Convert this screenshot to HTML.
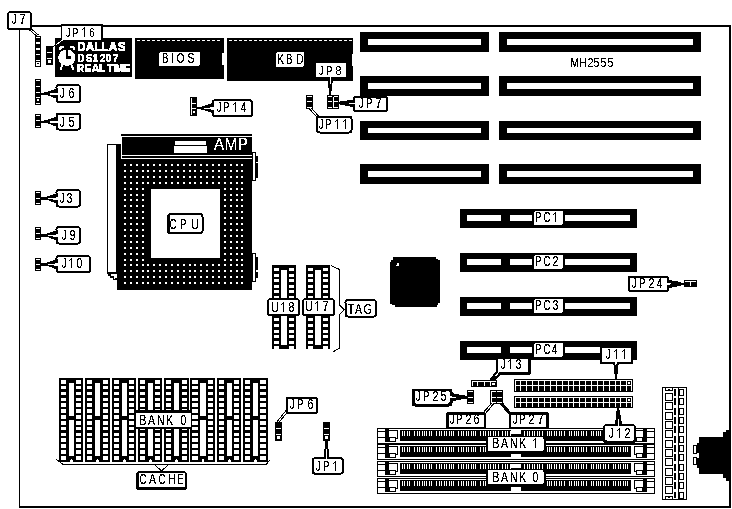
<!DOCTYPE html>
<html><head><meta charset="utf-8"><style>
html,body{margin:0;padding:0;background:#fff;}
svg{display:block;}
text{font-family:"Liberation Sans",sans-serif;}
</style></head><body>
<svg width="732" height="509" viewBox="0 0 732 509" shape-rendering="crispEdges">
<defs><filter id="crisp" x="-10%" y="-30%" width="120%" height="160%"><feComponentTransfer><feFuncA type="discrete" tableValues="0 0 1 1 1"/></feComponentTransfer></filter></defs>
<rect x="0" y="0" width="732" height="509" fill="#fff"/>
<rect x="19" y="25" width="712" height="2" fill="#000"/>
<rect x="19" y="506" width="712" height="2" fill="#000"/>
<rect x="19" y="25" width="1" height="483" fill="#000"/>
<rect x="729" y="25" width="2" height="483" fill="#000"/>
<rect x="360" y="32" width="129" height="20" fill="#000"/>
<rect x="368" y="39" width="113" height="6" fill="#fff"/>
<rect x="499" y="32" width="202" height="20" fill="#000"/>
<rect x="507" y="39" width="186" height="6" fill="#fff"/>
<rect x="360" y="76" width="129" height="20" fill="#000"/>
<rect x="368" y="83" width="113" height="6" fill="#fff"/>
<rect x="499" y="76" width="202" height="20" fill="#000"/>
<rect x="507" y="83" width="186" height="6" fill="#fff"/>
<rect x="360" y="121" width="129" height="19" fill="#000"/>
<rect x="368" y="128" width="113" height="5" fill="#fff"/>
<rect x="499" y="121" width="202" height="19" fill="#000"/>
<rect x="507" y="128" width="186" height="5" fill="#fff"/>
<rect x="360" y="164" width="129" height="20" fill="#000"/>
<rect x="368" y="171" width="113" height="6" fill="#fff"/>
<rect x="499" y="164" width="202" height="20" fill="#000"/>
<rect x="507" y="171" width="186" height="6" fill="#fff"/>
<g font-family="Liberation Sans" font-size="12.5" font-weight="normal" fill="#000" filter="url(#crisp)"><text transform="translate(570.142 67) scale(0.8371 1)" x="0" y="0">M</text><text transform="translate(579.119 67) scale(0.8593 1)" x="0" y="0">H</text><text transform="translate(587.448 67) scale(0.8780 1)" x="0" y="0">2</text><text transform="translate(593.578 67) scale(0.8437 1)" x="0" y="0">5</text><text transform="translate(600.578 67) scale(0.8437 1)" x="0" y="0">5</text><text transform="translate(607.578 67) scale(0.8437 1)" x="0" y="0">5</text></g>
<rect x="460" y="209" width="177" height="19" fill="#000"/>
<rect x="467" y="215" width="34" height="6" fill="#fff"/>
<rect x="510" y="215" width="22" height="6" fill="#fff"/>
<rect x="565" y="215" width="65" height="6" fill="#fff"/>
<rect x="534" y="211" width="29" height="14" rx="2" fill="#fff"/>
<rect x="555" y="212" width="1" height="10" fill="#000"/>
<rect x="554" y="213" width="1" height="1" fill="#000"/>
<rect x="553" y="214" width="1" height="1" fill="#000"/>
<g font-family="Liberation Sans" font-size="14" font-weight="normal" fill="#000" filter="url(#crisp)"><text transform="translate(535.229 222) scale(0.6710 1)" x="0" y="0">P</text><text transform="translate(543.519 222) scale(0.6767 1)" x="0" y="0">C</text></g>
<rect x="460" y="253" width="177" height="19" fill="#000"/>
<rect x="467" y="259" width="34" height="6" fill="#fff"/>
<rect x="510" y="259" width="22" height="6" fill="#fff"/>
<rect x="565" y="259" width="65" height="6" fill="#fff"/>
<rect x="534" y="255" width="29" height="14" rx="2" fill="#fff"/>
<g font-family="Liberation Sans" font-size="14" font-weight="normal" fill="#000" filter="url(#crisp)"><text transform="translate(535.229 266) scale(0.6710 1)" x="0" y="0">P</text><text transform="translate(543.519 266) scale(0.6767 1)" x="0" y="0">C</text><text transform="translate(552.448 266) scale(0.7840 1)" x="0" y="0">2</text></g>
<rect x="460" y="297" width="177" height="19" fill="#000"/>
<rect x="467" y="303" width="34" height="6" fill="#fff"/>
<rect x="510" y="303" width="22" height="6" fill="#fff"/>
<rect x="565" y="303" width="65" height="6" fill="#fff"/>
<rect x="534" y="299" width="29" height="14" rx="2" fill="#fff"/>
<g font-family="Liberation Sans" font-size="14" font-weight="normal" fill="#000" filter="url(#crisp)"><text transform="translate(535.229 310) scale(0.6710 1)" x="0" y="0">P</text><text transform="translate(543.519 310) scale(0.6767 1)" x="0" y="0">C</text><text transform="translate(552.598 310) scale(0.7533 1)" x="0" y="0">3</text></g>
<rect x="460" y="341" width="177" height="19" fill="#000"/>
<rect x="467" y="347" width="34" height="6" fill="#fff"/>
<rect x="510" y="347" width="22" height="6" fill="#fff"/>
<rect x="565" y="347" width="65" height="6" fill="#fff"/>
<rect x="534" y="343" width="29" height="14" rx="2" fill="#fff"/>
<g font-family="Liberation Sans" font-size="14" font-weight="normal" fill="#000" filter="url(#crisp)"><text transform="translate(535.229 354) scale(0.6710 1)" x="0" y="0">P</text><text transform="translate(543.519 354) scale(0.6767 1)" x="0" y="0">C</text><text transform="translate(551.772 354) scale(0.7087 1)" x="0" y="0">4</text></g>
<rect x="135" y="38" width="89" height="41" fill="#000"/>
<rect x="227" y="38" width="126" height="43" fill="#000"/>
<rect x="352" y="54" width="1" height="12" fill="#fff"/>
<rect x="222" y="53" width="2" height="12" fill="#fff"/>
<rect x="137" y="40" width="3" height="1" fill="#fff"/>
<rect x="142" y="40" width="3" height="1" fill="#fff"/>
<rect x="147" y="40" width="3" height="1" fill="#fff"/>
<rect x="152" y="40" width="3" height="1" fill="#fff"/>
<rect x="157" y="40" width="3" height="1" fill="#fff"/>
<rect x="162" y="40" width="3" height="1" fill="#fff"/>
<rect x="167" y="40" width="3" height="1" fill="#fff"/>
<rect x="172" y="40" width="3" height="1" fill="#fff"/>
<rect x="177" y="40" width="3" height="1" fill="#fff"/>
<rect x="182" y="40" width="3" height="1" fill="#fff"/>
<rect x="187" y="40" width="3" height="1" fill="#fff"/>
<rect x="192" y="40" width="3" height="1" fill="#fff"/>
<rect x="197" y="40" width="3" height="1" fill="#fff"/>
<rect x="202" y="40" width="3" height="1" fill="#fff"/>
<rect x="207" y="40" width="3" height="1" fill="#fff"/>
<rect x="212" y="40" width="3" height="1" fill="#fff"/>
<rect x="217" y="40" width="3" height="1" fill="#fff"/>
<rect x="229" y="40" width="3" height="1" fill="#fff"/>
<rect x="234" y="40" width="3" height="1" fill="#fff"/>
<rect x="239" y="40" width="3" height="1" fill="#fff"/>
<rect x="244" y="40" width="3" height="1" fill="#fff"/>
<rect x="249" y="40" width="3" height="1" fill="#fff"/>
<rect x="254" y="40" width="3" height="1" fill="#fff"/>
<rect x="259" y="40" width="3" height="1" fill="#fff"/>
<rect x="264" y="40" width="3" height="1" fill="#fff"/>
<rect x="269" y="40" width="3" height="1" fill="#fff"/>
<rect x="274" y="40" width="3" height="1" fill="#fff"/>
<rect x="279" y="40" width="3" height="1" fill="#fff"/>
<rect x="284" y="40" width="3" height="1" fill="#fff"/>
<rect x="289" y="40" width="3" height="1" fill="#fff"/>
<rect x="294" y="40" width="3" height="1" fill="#fff"/>
<rect x="299" y="40" width="3" height="1" fill="#fff"/>
<rect x="304" y="40" width="3" height="1" fill="#fff"/>
<rect x="309" y="40" width="3" height="1" fill="#fff"/>
<rect x="314" y="40" width="3" height="1" fill="#fff"/>
<rect x="319" y="40" width="3" height="1" fill="#fff"/>
<rect x="324" y="40" width="3" height="1" fill="#fff"/>
<rect x="329" y="40" width="3" height="1" fill="#fff"/>
<rect x="334" y="40" width="3" height="1" fill="#fff"/>
<rect x="339" y="40" width="3" height="1" fill="#fff"/>
<rect x="344" y="40" width="3" height="1" fill="#fff"/>
<rect x="349" y="40" width="3" height="1" fill="#fff"/>
<rect x="159" y="52" width="41" height="14" rx="2" fill="#fff"/>
<g font-family="Liberation Sans" font-size="14" font-weight="normal" fill="#000" filter="url(#crisp)"><text transform="translate(162.229 63) scale(0.6710 1)" x="0" y="0">B</text><text transform="translate(171.010 63) scale(0.7659 1)" x="0" y="0">I</text><text transform="translate(176.514 63) scale(0.7325 1)" x="0" y="0">O</text><text transform="translate(187.527 63) scale(0.7445 1)" x="0" y="0">S</text></g>
<rect x="276" y="52" width="28" height="15" rx="2" fill="#fff"/>
<g font-family="Liberation Sans" font-size="14" font-weight="normal" fill="#000" filter="url(#crisp)"><text transform="translate(277.142 64) scale(0.7470 1)" x="0" y="0">K</text><text transform="translate(286.229 64) scale(0.6710 1)" x="0" y="0">B</text><text transform="translate(296.169 64) scale(0.7236 1)" x="0" y="0">D</text></g>
<rect x="55" y="38" width="77" height="39" fill="#000"/>
<g font-family="Liberation Sans" font-size="12" font-weight="bold" fill="#fff" stroke="#fff" stroke-width="0.5" filter="url(#crisp)"><text transform="translate(77.236 51) scale(0.9512 1)" x="0" y="0">D</text><text transform="translate(85.703 51) scale(0.9937 1)" x="0" y="0">A</text><text transform="translate(94.218 51) scale(0.9743 1)" x="0" y="0">L</text><text transform="translate(101.218 51) scale(0.9743 1)" x="0" y="0">L</text><text transform="translate(108.703 51) scale(0.9937 1)" x="0" y="0">A</text><text transform="translate(117.663 51) scale(0.9736 1)" x="0" y="0">S</text></g>
<g font-family="Liberation Sans" font-size="11.5" font-weight="bold" fill="#fff" stroke="#fff" stroke-width="0.25" filter="url(#crisp)"><text transform="translate(77.346 62) scale(0.8507 1)" x="0" y="0">D</text><text transform="translate(85.711 62) scale(0.8708 1)" x="0" y="0">S</text><text transform="translate(92.323 62) scale(0.9343 1)" x="0" y="0">1</text><text transform="translate(99.640 62) scale(0.9031 1)" x="0" y="0">2</text><text transform="translate(105.584 62) scale(0.9142 1)" x="0" y="0">0</text><text transform="translate(112.542 62) scale(0.9266 1)" x="0" y="0">7</text></g>
<g font-family="Liberation Sans" font-size="10.5" font-weight="bold" fill="#fff" stroke="#fff" stroke-width="0.4" filter="url(#crisp)"><text transform="translate(77.368 72) scale(0.9002 1)" x="0" y="0">R</text><text transform="translate(84.285 72) scale(1.0185 1)" x="0" y="0">E</text><text transform="translate(91.740 72) scale(0.9937 1)" x="0" y="0">A</text><text transform="translate(99.348 72) scale(0.9279 1)" x="0" y="0">L</text><text transform="translate(106.886 72) scale(0.9704 1)" x="0" y="0">T</text><text transform="translate(113.536 72) scale(0.6612 1)" x="0" y="0">I</text><text transform="translate(115.330 72) scale(0.9534 1)" x="0" y="0">M</text><text transform="translate(123.285 72) scale(1.0185 1)" x="0" y="0">E</text></g>
<ellipse cx="66.8" cy="57.7" rx="8.6" ry="8.2" fill="#fff"/>
<path d="M59 50 L59 47 L61 46 L64 46 L64 47.5 L61.5 48.5 L60.5 50 Z" fill="#fff"/>
<path d="M75 50 L75 47 L73 46 L70 46 L70 47.5 L72.5 48.5 L73.5 50 Z" fill="#fff"/>
<rect x="66" y="50" width="2" height="8" fill="#000"/>
<rect x="66" y="56" width="5" height="3" fill="#000"/>
<path d="M62.5 64 L60.5 70 M71 64 L73.5 70" stroke="#fff" stroke-width="2"/>
<rect x="107" y="144" width="10" height="130" fill="#000"/>
<rect x="108" y="145" width="8" height="127" fill="#fff"/>
<rect x="108" y="274" width="3" height="2" fill="#000"/>
<rect x="110" y="276" width="4" height="2" fill="#000"/>
<rect x="113" y="278" width="4" height="2" fill="#000"/>
<rect x="114" y="278" width="1" height="1" fill="#fff"/>
<rect x="117" y="144" width="135" height="146" fill="#000"/>
<rect x="121" y="134" width="131" height="25" fill="#000"/>
<rect x="122" y="136" width="130" height="1" fill="#fff"/>
<rect x="121" y="136" width="1" height="23" fill="#fff"/>
<rect x="121" y="155" width="131" height="1" fill="#fff"/>
<rect x="121" y="158" width="131" height="1" fill="#fff"/>
<rect x="175" y="141" width="31" height="4" fill="#fff"/>
<rect x="174" y="146" width="33" height="7" fill="#fff"/>
<g font-family="Liberation Sans" font-size="17" font-weight="normal" fill="#fff" filter="url(#crisp)"><text transform="translate(213.971 150) scale(0.8871 1)" x="0" y="0">A</text><text transform="translate(224.774 150) scale(0.8793 1)" x="0" y="0">M</text><text transform="translate(237.767 150) scale(0.8842 1)" x="0" y="0">P</text></g>
<rect x="124" y="164" width="2" height="2" fill="#fff"/>
<rect x="124" y="170" width="2" height="2" fill="#fff"/>
<rect x="124" y="176" width="2" height="2" fill="#fff"/>
<rect x="124" y="182" width="2" height="2" fill="#fff"/>
<rect x="124" y="188" width="2" height="2" fill="#fff"/>
<rect x="124" y="194" width="2" height="2" fill="#fff"/>
<rect x="124" y="199" width="2" height="2" fill="#fff"/>
<rect x="124" y="205" width="2" height="2" fill="#fff"/>
<rect x="124" y="211" width="2" height="2" fill="#fff"/>
<rect x="124" y="217" width="2" height="2" fill="#fff"/>
<rect x="124" y="223" width="2" height="2" fill="#fff"/>
<rect x="124" y="229" width="2" height="2" fill="#fff"/>
<rect x="124" y="235" width="2" height="2" fill="#fff"/>
<rect x="124" y="241" width="2" height="2" fill="#fff"/>
<rect x="124" y="247" width="2" height="2" fill="#fff"/>
<rect x="124" y="253" width="2" height="2" fill="#fff"/>
<rect x="124" y="259" width="2" height="2" fill="#fff"/>
<rect x="124" y="264" width="2" height="2" fill="#fff"/>
<rect x="124" y="270" width="2" height="2" fill="#fff"/>
<rect x="124" y="276" width="2" height="2" fill="#fff"/>
<rect x="124" y="282" width="2" height="2" fill="#fff"/>
<rect x="130" y="164" width="2" height="2" fill="#fff"/>
<rect x="130" y="170" width="2" height="2" fill="#fff"/>
<rect x="130" y="176" width="2" height="2" fill="#fff"/>
<rect x="130" y="182" width="2" height="2" fill="#fff"/>
<rect x="130" y="188" width="2" height="2" fill="#fff"/>
<rect x="130" y="194" width="2" height="2" fill="#fff"/>
<rect x="130" y="199" width="2" height="2" fill="#fff"/>
<rect x="130" y="205" width="2" height="2" fill="#fff"/>
<rect x="130" y="211" width="2" height="2" fill="#fff"/>
<rect x="130" y="217" width="2" height="2" fill="#fff"/>
<rect x="130" y="223" width="2" height="2" fill="#fff"/>
<rect x="130" y="229" width="2" height="2" fill="#fff"/>
<rect x="130" y="235" width="2" height="2" fill="#fff"/>
<rect x="130" y="241" width="2" height="2" fill="#fff"/>
<rect x="130" y="247" width="2" height="2" fill="#fff"/>
<rect x="130" y="253" width="2" height="2" fill="#fff"/>
<rect x="130" y="259" width="2" height="2" fill="#fff"/>
<rect x="130" y="264" width="2" height="2" fill="#fff"/>
<rect x="130" y="270" width="2" height="2" fill="#fff"/>
<rect x="130" y="276" width="2" height="2" fill="#fff"/>
<rect x="130" y="282" width="2" height="2" fill="#fff"/>
<rect x="136" y="164" width="2" height="2" fill="#fff"/>
<rect x="136" y="170" width="2" height="2" fill="#fff"/>
<rect x="136" y="176" width="2" height="2" fill="#fff"/>
<rect x="136" y="182" width="2" height="2" fill="#fff"/>
<rect x="136" y="188" width="2" height="2" fill="#fff"/>
<rect x="136" y="194" width="2" height="2" fill="#fff"/>
<rect x="136" y="199" width="2" height="2" fill="#fff"/>
<rect x="136" y="205" width="2" height="2" fill="#fff"/>
<rect x="136" y="211" width="2" height="2" fill="#fff"/>
<rect x="136" y="217" width="2" height="2" fill="#fff"/>
<rect x="136" y="223" width="2" height="2" fill="#fff"/>
<rect x="136" y="229" width="2" height="2" fill="#fff"/>
<rect x="136" y="235" width="2" height="2" fill="#fff"/>
<rect x="136" y="241" width="2" height="2" fill="#fff"/>
<rect x="136" y="247" width="2" height="2" fill="#fff"/>
<rect x="136" y="253" width="2" height="2" fill="#fff"/>
<rect x="136" y="259" width="2" height="2" fill="#fff"/>
<rect x="136" y="264" width="2" height="2" fill="#fff"/>
<rect x="136" y="270" width="2" height="2" fill="#fff"/>
<rect x="136" y="276" width="2" height="2" fill="#fff"/>
<rect x="136" y="282" width="2" height="2" fill="#fff"/>
<rect x="142" y="164" width="2" height="2" fill="#fff"/>
<rect x="142" y="170" width="2" height="2" fill="#fff"/>
<rect x="142" y="176" width="2" height="2" fill="#fff"/>
<rect x="142" y="182" width="2" height="2" fill="#fff"/>
<rect x="142" y="188" width="2" height="2" fill="#fff"/>
<rect x="142" y="194" width="2" height="2" fill="#fff"/>
<rect x="142" y="199" width="2" height="2" fill="#fff"/>
<rect x="142" y="205" width="2" height="2" fill="#fff"/>
<rect x="142" y="211" width="2" height="2" fill="#fff"/>
<rect x="142" y="217" width="2" height="2" fill="#fff"/>
<rect x="142" y="223" width="2" height="2" fill="#fff"/>
<rect x="142" y="229" width="2" height="2" fill="#fff"/>
<rect x="142" y="235" width="2" height="2" fill="#fff"/>
<rect x="142" y="241" width="2" height="2" fill="#fff"/>
<rect x="142" y="247" width="2" height="2" fill="#fff"/>
<rect x="142" y="253" width="2" height="2" fill="#fff"/>
<rect x="142" y="259" width="2" height="2" fill="#fff"/>
<rect x="142" y="264" width="2" height="2" fill="#fff"/>
<rect x="142" y="270" width="2" height="2" fill="#fff"/>
<rect x="142" y="276" width="2" height="2" fill="#fff"/>
<rect x="142" y="282" width="2" height="2" fill="#fff"/>
<rect x="147" y="164" width="2" height="2" fill="#fff"/>
<rect x="147" y="170" width="2" height="2" fill="#fff"/>
<rect x="147" y="176" width="2" height="2" fill="#fff"/>
<rect x="147" y="182" width="2" height="2" fill="#fff"/>
<rect x="147" y="264" width="2" height="2" fill="#fff"/>
<rect x="147" y="270" width="2" height="2" fill="#fff"/>
<rect x="147" y="276" width="2" height="2" fill="#fff"/>
<rect x="147" y="282" width="2" height="2" fill="#fff"/>
<rect x="153" y="164" width="2" height="2" fill="#fff"/>
<rect x="153" y="170" width="2" height="2" fill="#fff"/>
<rect x="153" y="176" width="2" height="2" fill="#fff"/>
<rect x="153" y="182" width="2" height="2" fill="#fff"/>
<rect x="153" y="264" width="2" height="2" fill="#fff"/>
<rect x="153" y="270" width="2" height="2" fill="#fff"/>
<rect x="153" y="276" width="2" height="2" fill="#fff"/>
<rect x="153" y="282" width="2" height="2" fill="#fff"/>
<rect x="159" y="164" width="2" height="2" fill="#fff"/>
<rect x="159" y="170" width="2" height="2" fill="#fff"/>
<rect x="159" y="176" width="2" height="2" fill="#fff"/>
<rect x="159" y="182" width="2" height="2" fill="#fff"/>
<rect x="159" y="264" width="2" height="2" fill="#fff"/>
<rect x="159" y="270" width="2" height="2" fill="#fff"/>
<rect x="159" y="276" width="2" height="2" fill="#fff"/>
<rect x="159" y="282" width="2" height="2" fill="#fff"/>
<rect x="165" y="164" width="2" height="2" fill="#fff"/>
<rect x="165" y="170" width="2" height="2" fill="#fff"/>
<rect x="165" y="176" width="2" height="2" fill="#fff"/>
<rect x="165" y="182" width="2" height="2" fill="#fff"/>
<rect x="165" y="264" width="2" height="2" fill="#fff"/>
<rect x="165" y="270" width="2" height="2" fill="#fff"/>
<rect x="165" y="276" width="2" height="2" fill="#fff"/>
<rect x="165" y="282" width="2" height="2" fill="#fff"/>
<rect x="171" y="164" width="2" height="2" fill="#fff"/>
<rect x="171" y="170" width="2" height="2" fill="#fff"/>
<rect x="171" y="176" width="2" height="2" fill="#fff"/>
<rect x="171" y="182" width="2" height="2" fill="#fff"/>
<rect x="171" y="264" width="2" height="2" fill="#fff"/>
<rect x="171" y="270" width="2" height="2" fill="#fff"/>
<rect x="171" y="276" width="2" height="2" fill="#fff"/>
<rect x="171" y="282" width="2" height="2" fill="#fff"/>
<rect x="177" y="164" width="2" height="2" fill="#fff"/>
<rect x="177" y="170" width="2" height="2" fill="#fff"/>
<rect x="177" y="176" width="2" height="2" fill="#fff"/>
<rect x="177" y="182" width="2" height="2" fill="#fff"/>
<rect x="177" y="264" width="2" height="2" fill="#fff"/>
<rect x="177" y="270" width="2" height="2" fill="#fff"/>
<rect x="177" y="276" width="2" height="2" fill="#fff"/>
<rect x="177" y="282" width="2" height="2" fill="#fff"/>
<rect x="183" y="164" width="2" height="2" fill="#fff"/>
<rect x="183" y="170" width="2" height="2" fill="#fff"/>
<rect x="183" y="176" width="2" height="2" fill="#fff"/>
<rect x="183" y="182" width="2" height="2" fill="#fff"/>
<rect x="183" y="264" width="2" height="2" fill="#fff"/>
<rect x="183" y="270" width="2" height="2" fill="#fff"/>
<rect x="183" y="276" width="2" height="2" fill="#fff"/>
<rect x="183" y="282" width="2" height="2" fill="#fff"/>
<rect x="189" y="164" width="2" height="2" fill="#fff"/>
<rect x="189" y="170" width="2" height="2" fill="#fff"/>
<rect x="189" y="176" width="2" height="2" fill="#fff"/>
<rect x="189" y="182" width="2" height="2" fill="#fff"/>
<rect x="189" y="264" width="2" height="2" fill="#fff"/>
<rect x="189" y="270" width="2" height="2" fill="#fff"/>
<rect x="189" y="276" width="2" height="2" fill="#fff"/>
<rect x="189" y="282" width="2" height="2" fill="#fff"/>
<rect x="194" y="164" width="2" height="2" fill="#fff"/>
<rect x="194" y="170" width="2" height="2" fill="#fff"/>
<rect x="194" y="176" width="2" height="2" fill="#fff"/>
<rect x="194" y="182" width="2" height="2" fill="#fff"/>
<rect x="194" y="264" width="2" height="2" fill="#fff"/>
<rect x="194" y="270" width="2" height="2" fill="#fff"/>
<rect x="194" y="276" width="2" height="2" fill="#fff"/>
<rect x="194" y="282" width="2" height="2" fill="#fff"/>
<rect x="200" y="164" width="2" height="2" fill="#fff"/>
<rect x="200" y="170" width="2" height="2" fill="#fff"/>
<rect x="200" y="176" width="2" height="2" fill="#fff"/>
<rect x="200" y="182" width="2" height="2" fill="#fff"/>
<rect x="200" y="264" width="2" height="2" fill="#fff"/>
<rect x="200" y="270" width="2" height="2" fill="#fff"/>
<rect x="200" y="276" width="2" height="2" fill="#fff"/>
<rect x="200" y="282" width="2" height="2" fill="#fff"/>
<rect x="206" y="164" width="2" height="2" fill="#fff"/>
<rect x="206" y="170" width="2" height="2" fill="#fff"/>
<rect x="206" y="176" width="2" height="2" fill="#fff"/>
<rect x="206" y="182" width="2" height="2" fill="#fff"/>
<rect x="206" y="264" width="2" height="2" fill="#fff"/>
<rect x="206" y="270" width="2" height="2" fill="#fff"/>
<rect x="206" y="276" width="2" height="2" fill="#fff"/>
<rect x="206" y="282" width="2" height="2" fill="#fff"/>
<rect x="212" y="164" width="2" height="2" fill="#fff"/>
<rect x="212" y="170" width="2" height="2" fill="#fff"/>
<rect x="212" y="176" width="2" height="2" fill="#fff"/>
<rect x="212" y="182" width="2" height="2" fill="#fff"/>
<rect x="212" y="264" width="2" height="2" fill="#fff"/>
<rect x="212" y="270" width="2" height="2" fill="#fff"/>
<rect x="212" y="276" width="2" height="2" fill="#fff"/>
<rect x="212" y="282" width="2" height="2" fill="#fff"/>
<rect x="218" y="164" width="2" height="2" fill="#fff"/>
<rect x="218" y="170" width="2" height="2" fill="#fff"/>
<rect x="218" y="176" width="2" height="2" fill="#fff"/>
<rect x="218" y="182" width="2" height="2" fill="#fff"/>
<rect x="218" y="264" width="2" height="2" fill="#fff"/>
<rect x="218" y="270" width="2" height="2" fill="#fff"/>
<rect x="218" y="276" width="2" height="2" fill="#fff"/>
<rect x="218" y="282" width="2" height="2" fill="#fff"/>
<rect x="224" y="164" width="2" height="2" fill="#fff"/>
<rect x="224" y="170" width="2" height="2" fill="#fff"/>
<rect x="224" y="176" width="2" height="2" fill="#fff"/>
<rect x="224" y="182" width="2" height="2" fill="#fff"/>
<rect x="224" y="188" width="2" height="2" fill="#fff"/>
<rect x="224" y="194" width="2" height="2" fill="#fff"/>
<rect x="224" y="199" width="2" height="2" fill="#fff"/>
<rect x="224" y="205" width="2" height="2" fill="#fff"/>
<rect x="224" y="211" width="2" height="2" fill="#fff"/>
<rect x="224" y="217" width="2" height="2" fill="#fff"/>
<rect x="224" y="223" width="2" height="2" fill="#fff"/>
<rect x="224" y="229" width="2" height="2" fill="#fff"/>
<rect x="224" y="235" width="2" height="2" fill="#fff"/>
<rect x="224" y="241" width="2" height="2" fill="#fff"/>
<rect x="224" y="247" width="2" height="2" fill="#fff"/>
<rect x="224" y="253" width="2" height="2" fill="#fff"/>
<rect x="224" y="259" width="2" height="2" fill="#fff"/>
<rect x="224" y="264" width="2" height="2" fill="#fff"/>
<rect x="224" y="270" width="2" height="2" fill="#fff"/>
<rect x="224" y="276" width="2" height="2" fill="#fff"/>
<rect x="224" y="282" width="2" height="2" fill="#fff"/>
<rect x="230" y="164" width="2" height="2" fill="#fff"/>
<rect x="230" y="170" width="2" height="2" fill="#fff"/>
<rect x="230" y="176" width="2" height="2" fill="#fff"/>
<rect x="230" y="182" width="2" height="2" fill="#fff"/>
<rect x="230" y="188" width="2" height="2" fill="#fff"/>
<rect x="230" y="194" width="2" height="2" fill="#fff"/>
<rect x="230" y="199" width="2" height="2" fill="#fff"/>
<rect x="230" y="205" width="2" height="2" fill="#fff"/>
<rect x="230" y="211" width="2" height="2" fill="#fff"/>
<rect x="230" y="217" width="2" height="2" fill="#fff"/>
<rect x="230" y="223" width="2" height="2" fill="#fff"/>
<rect x="230" y="229" width="2" height="2" fill="#fff"/>
<rect x="230" y="235" width="2" height="2" fill="#fff"/>
<rect x="230" y="241" width="2" height="2" fill="#fff"/>
<rect x="230" y="247" width="2" height="2" fill="#fff"/>
<rect x="230" y="253" width="2" height="2" fill="#fff"/>
<rect x="230" y="259" width="2" height="2" fill="#fff"/>
<rect x="230" y="264" width="2" height="2" fill="#fff"/>
<rect x="230" y="270" width="2" height="2" fill="#fff"/>
<rect x="230" y="276" width="2" height="2" fill="#fff"/>
<rect x="230" y="282" width="2" height="2" fill="#fff"/>
<rect x="236" y="164" width="2" height="2" fill="#fff"/>
<rect x="236" y="170" width="2" height="2" fill="#fff"/>
<rect x="236" y="176" width="2" height="2" fill="#fff"/>
<rect x="236" y="182" width="2" height="2" fill="#fff"/>
<rect x="236" y="188" width="2" height="2" fill="#fff"/>
<rect x="236" y="194" width="2" height="2" fill="#fff"/>
<rect x="236" y="199" width="2" height="2" fill="#fff"/>
<rect x="236" y="205" width="2" height="2" fill="#fff"/>
<rect x="236" y="211" width="2" height="2" fill="#fff"/>
<rect x="236" y="217" width="2" height="2" fill="#fff"/>
<rect x="236" y="223" width="2" height="2" fill="#fff"/>
<rect x="236" y="229" width="2" height="2" fill="#fff"/>
<rect x="236" y="235" width="2" height="2" fill="#fff"/>
<rect x="236" y="241" width="2" height="2" fill="#fff"/>
<rect x="236" y="247" width="2" height="2" fill="#fff"/>
<rect x="236" y="253" width="2" height="2" fill="#fff"/>
<rect x="236" y="259" width="2" height="2" fill="#fff"/>
<rect x="236" y="264" width="2" height="2" fill="#fff"/>
<rect x="236" y="270" width="2" height="2" fill="#fff"/>
<rect x="236" y="276" width="2" height="2" fill="#fff"/>
<rect x="236" y="282" width="2" height="2" fill="#fff"/>
<rect x="241" y="164" width="2" height="2" fill="#fff"/>
<rect x="241" y="170" width="2" height="2" fill="#fff"/>
<rect x="241" y="176" width="2" height="2" fill="#fff"/>
<rect x="241" y="182" width="2" height="2" fill="#fff"/>
<rect x="241" y="188" width="2" height="2" fill="#fff"/>
<rect x="241" y="194" width="2" height="2" fill="#fff"/>
<rect x="241" y="199" width="2" height="2" fill="#fff"/>
<rect x="241" y="205" width="2" height="2" fill="#fff"/>
<rect x="241" y="211" width="2" height="2" fill="#fff"/>
<rect x="241" y="217" width="2" height="2" fill="#fff"/>
<rect x="241" y="223" width="2" height="2" fill="#fff"/>
<rect x="241" y="229" width="2" height="2" fill="#fff"/>
<rect x="241" y="235" width="2" height="2" fill="#fff"/>
<rect x="241" y="241" width="2" height="2" fill="#fff"/>
<rect x="241" y="247" width="2" height="2" fill="#fff"/>
<rect x="241" y="253" width="2" height="2" fill="#fff"/>
<rect x="241" y="259" width="2" height="2" fill="#fff"/>
<rect x="241" y="264" width="2" height="2" fill="#fff"/>
<rect x="241" y="270" width="2" height="2" fill="#fff"/>
<rect x="241" y="276" width="2" height="2" fill="#fff"/>
<rect x="241" y="282" width="2" height="2" fill="#fff"/>
<rect x="151" y="189" width="69" height="69" fill="#fff"/>
<rect x="167" y="213" width="36.5" height="21" rx="3.5" fill="#000"/>
<rect x="170" y="215" width="31.5" height="17" rx="1.5" fill="#fff"/>
<g font-family="Liberation Sans" font-size="14" font-weight="normal" fill="#000" filter="url(#crisp)"><text transform="translate(169.519 229) scale(0.6767 1)" x="0" y="0">C</text><text transform="translate(180.229 229) scale(0.6710 1)" x="0" y="0">P</text><text transform="translate(191.185 229) scale(0.7547 1)" x="0" y="0">U</text></g>
<rect x="252" y="152" width="4" height="29" fill="#000"/>
<rect x="253" y="153" width="2" height="27" fill="#fff"/>
<rect x="256" y="156" width="2" height="6" fill="#000"/>
<rect x="256" y="163" width="2" height="15" fill="#000"/>
<rect x="252" y="253" width="4" height="29" fill="#000"/>
<rect x="253" y="254" width="2" height="27" fill="#fff"/>
<rect x="256" y="257" width="2" height="13" fill="#000"/>
<rect x="256" y="272" width="2" height="6" fill="#000"/>
<polygon points="393,257 436,257 436,259 438,259 438,260 440,260 440,303 438,303 438,305 437,305 437,307 395,307 395,305 392,305 392,304 390,304 390,262 391,262 391,260 393,260" fill="#000"/>
<rect x="397" y="263" width="2" height="3" fill="#fff"/>
<rect x="396" y="265" width="1" height="1" fill="#fff"/>
<rect x="59" y="378" width="24" height="84" fill="#000"/>
<rect x="61" y="380" width="5" height="4" fill="#fff"/>
<rect x="76" y="380" width="5" height="4" fill="#fff"/>
<rect x="61" y="386" width="5" height="3" fill="#fff"/>
<rect x="76" y="386" width="5" height="3" fill="#fff"/>
<rect x="61" y="392" width="5" height="3" fill="#fff"/>
<rect x="76" y="392" width="5" height="3" fill="#fff"/>
<rect x="61" y="398" width="5" height="3" fill="#fff"/>
<rect x="76" y="398" width="5" height="3" fill="#fff"/>
<rect x="61" y="403" width="5" height="4" fill="#fff"/>
<rect x="76" y="403" width="5" height="4" fill="#fff"/>
<rect x="61" y="409" width="5" height="4" fill="#fff"/>
<rect x="76" y="409" width="5" height="4" fill="#fff"/>
<rect x="61" y="415" width="5" height="4" fill="#fff"/>
<rect x="76" y="415" width="5" height="4" fill="#fff"/>
<rect x="61" y="421" width="5" height="4" fill="#fff"/>
<rect x="76" y="421" width="5" height="4" fill="#fff"/>
<rect x="61" y="427" width="5" height="3" fill="#fff"/>
<rect x="76" y="427" width="5" height="3" fill="#fff"/>
<rect x="61" y="433" width="5" height="3" fill="#fff"/>
<rect x="76" y="433" width="5" height="3" fill="#fff"/>
<rect x="61" y="438" width="5" height="4" fill="#fff"/>
<rect x="76" y="438" width="5" height="4" fill="#fff"/>
<rect x="61" y="444" width="5" height="4" fill="#fff"/>
<rect x="76" y="444" width="5" height="4" fill="#fff"/>
<rect x="61" y="450" width="5" height="4" fill="#fff"/>
<rect x="76" y="450" width="5" height="4" fill="#fff"/>
<rect x="61" y="456" width="5" height="4" fill="#fff"/>
<rect x="76" y="456" width="5" height="4" fill="#fff"/>
<rect x="69" y="383" width="5" height="33" fill="#fff"/>
<rect x="69" y="420" width="5" height="36" fill="#fff"/>
<rect x="70" y="460" width="3" height="2" fill="#fff"/>
<rect x="71" y="459" width="1" height="1" fill="#fff"/>
<rect x="85" y="378" width="25" height="84" fill="#000"/>
<rect x="87" y="380" width="5" height="4" fill="#fff"/>
<rect x="103" y="380" width="5" height="4" fill="#fff"/>
<rect x="87" y="386" width="5" height="3" fill="#fff"/>
<rect x="103" y="386" width="5" height="3" fill="#fff"/>
<rect x="87" y="392" width="5" height="3" fill="#fff"/>
<rect x="103" y="392" width="5" height="3" fill="#fff"/>
<rect x="87" y="398" width="5" height="3" fill="#fff"/>
<rect x="103" y="398" width="5" height="3" fill="#fff"/>
<rect x="87" y="403" width="5" height="4" fill="#fff"/>
<rect x="103" y="403" width="5" height="4" fill="#fff"/>
<rect x="87" y="409" width="5" height="4" fill="#fff"/>
<rect x="103" y="409" width="5" height="4" fill="#fff"/>
<rect x="87" y="415" width="5" height="4" fill="#fff"/>
<rect x="103" y="415" width="5" height="4" fill="#fff"/>
<rect x="87" y="421" width="5" height="4" fill="#fff"/>
<rect x="103" y="421" width="5" height="4" fill="#fff"/>
<rect x="87" y="427" width="5" height="3" fill="#fff"/>
<rect x="103" y="427" width="5" height="3" fill="#fff"/>
<rect x="87" y="433" width="5" height="3" fill="#fff"/>
<rect x="103" y="433" width="5" height="3" fill="#fff"/>
<rect x="87" y="438" width="5" height="4" fill="#fff"/>
<rect x="103" y="438" width="5" height="4" fill="#fff"/>
<rect x="87" y="444" width="5" height="4" fill="#fff"/>
<rect x="103" y="444" width="5" height="4" fill="#fff"/>
<rect x="87" y="450" width="5" height="4" fill="#fff"/>
<rect x="103" y="450" width="5" height="4" fill="#fff"/>
<rect x="87" y="456" width="5" height="4" fill="#fff"/>
<rect x="103" y="456" width="5" height="4" fill="#fff"/>
<rect x="95" y="383" width="5" height="33" fill="#fff"/>
<rect x="95" y="420" width="5" height="36" fill="#fff"/>
<rect x="96" y="460" width="3" height="2" fill="#fff"/>
<rect x="97" y="459" width="1" height="1" fill="#fff"/>
<rect x="112" y="378" width="24" height="84" fill="#000"/>
<rect x="114" y="380" width="5" height="4" fill="#fff"/>
<rect x="129" y="380" width="5" height="4" fill="#fff"/>
<rect x="114" y="386" width="5" height="3" fill="#fff"/>
<rect x="129" y="386" width="5" height="3" fill="#fff"/>
<rect x="114" y="392" width="5" height="3" fill="#fff"/>
<rect x="129" y="392" width="5" height="3" fill="#fff"/>
<rect x="114" y="398" width="5" height="3" fill="#fff"/>
<rect x="129" y="398" width="5" height="3" fill="#fff"/>
<rect x="114" y="403" width="5" height="4" fill="#fff"/>
<rect x="129" y="403" width="5" height="4" fill="#fff"/>
<rect x="114" y="409" width="5" height="4" fill="#fff"/>
<rect x="129" y="409" width="5" height="4" fill="#fff"/>
<rect x="114" y="415" width="5" height="4" fill="#fff"/>
<rect x="129" y="415" width="5" height="4" fill="#fff"/>
<rect x="114" y="421" width="5" height="4" fill="#fff"/>
<rect x="129" y="421" width="5" height="4" fill="#fff"/>
<rect x="114" y="427" width="5" height="3" fill="#fff"/>
<rect x="129" y="427" width="5" height="3" fill="#fff"/>
<rect x="114" y="433" width="5" height="3" fill="#fff"/>
<rect x="129" y="433" width="5" height="3" fill="#fff"/>
<rect x="114" y="438" width="5" height="4" fill="#fff"/>
<rect x="129" y="438" width="5" height="4" fill="#fff"/>
<rect x="114" y="444" width="5" height="4" fill="#fff"/>
<rect x="129" y="444" width="5" height="4" fill="#fff"/>
<rect x="114" y="450" width="5" height="4" fill="#fff"/>
<rect x="129" y="450" width="5" height="4" fill="#fff"/>
<rect x="114" y="456" width="5" height="4" fill="#fff"/>
<rect x="129" y="456" width="5" height="4" fill="#fff"/>
<rect x="122" y="383" width="5" height="33" fill="#fff"/>
<rect x="122" y="420" width="5" height="36" fill="#fff"/>
<rect x="123" y="460" width="3" height="2" fill="#fff"/>
<rect x="124" y="459" width="1" height="1" fill="#fff"/>
<rect x="138" y="378" width="24" height="84" fill="#000"/>
<rect x="140" y="380" width="5" height="4" fill="#fff"/>
<rect x="155" y="380" width="5" height="4" fill="#fff"/>
<rect x="140" y="386" width="5" height="3" fill="#fff"/>
<rect x="155" y="386" width="5" height="3" fill="#fff"/>
<rect x="140" y="392" width="5" height="3" fill="#fff"/>
<rect x="155" y="392" width="5" height="3" fill="#fff"/>
<rect x="140" y="398" width="5" height="3" fill="#fff"/>
<rect x="155" y="398" width="5" height="3" fill="#fff"/>
<rect x="140" y="403" width="5" height="4" fill="#fff"/>
<rect x="155" y="403" width="5" height="4" fill="#fff"/>
<rect x="140" y="409" width="5" height="4" fill="#fff"/>
<rect x="155" y="409" width="5" height="4" fill="#fff"/>
<rect x="140" y="415" width="5" height="4" fill="#fff"/>
<rect x="155" y="415" width="5" height="4" fill="#fff"/>
<rect x="140" y="421" width="5" height="4" fill="#fff"/>
<rect x="155" y="421" width="5" height="4" fill="#fff"/>
<rect x="140" y="427" width="5" height="3" fill="#fff"/>
<rect x="155" y="427" width="5" height="3" fill="#fff"/>
<rect x="140" y="433" width="5" height="3" fill="#fff"/>
<rect x="155" y="433" width="5" height="3" fill="#fff"/>
<rect x="140" y="438" width="5" height="4" fill="#fff"/>
<rect x="155" y="438" width="5" height="4" fill="#fff"/>
<rect x="140" y="444" width="5" height="4" fill="#fff"/>
<rect x="155" y="444" width="5" height="4" fill="#fff"/>
<rect x="140" y="450" width="5" height="4" fill="#fff"/>
<rect x="155" y="450" width="5" height="4" fill="#fff"/>
<rect x="140" y="456" width="5" height="4" fill="#fff"/>
<rect x="155" y="456" width="5" height="4" fill="#fff"/>
<rect x="148" y="383" width="5" height="33" fill="#fff"/>
<rect x="148" y="420" width="5" height="36" fill="#fff"/>
<rect x="149" y="460" width="3" height="2" fill="#fff"/>
<rect x="150" y="459" width="1" height="1" fill="#fff"/>
<rect x="164" y="378" width="25" height="84" fill="#000"/>
<rect x="166" y="380" width="5" height="4" fill="#fff"/>
<rect x="182" y="380" width="5" height="4" fill="#fff"/>
<rect x="166" y="386" width="5" height="3" fill="#fff"/>
<rect x="182" y="386" width="5" height="3" fill="#fff"/>
<rect x="166" y="392" width="5" height="3" fill="#fff"/>
<rect x="182" y="392" width="5" height="3" fill="#fff"/>
<rect x="166" y="398" width="5" height="3" fill="#fff"/>
<rect x="182" y="398" width="5" height="3" fill="#fff"/>
<rect x="166" y="403" width="5" height="4" fill="#fff"/>
<rect x="182" y="403" width="5" height="4" fill="#fff"/>
<rect x="166" y="409" width="5" height="4" fill="#fff"/>
<rect x="182" y="409" width="5" height="4" fill="#fff"/>
<rect x="166" y="415" width="5" height="4" fill="#fff"/>
<rect x="182" y="415" width="5" height="4" fill="#fff"/>
<rect x="166" y="421" width="5" height="4" fill="#fff"/>
<rect x="182" y="421" width="5" height="4" fill="#fff"/>
<rect x="166" y="427" width="5" height="3" fill="#fff"/>
<rect x="182" y="427" width="5" height="3" fill="#fff"/>
<rect x="166" y="433" width="5" height="3" fill="#fff"/>
<rect x="182" y="433" width="5" height="3" fill="#fff"/>
<rect x="166" y="438" width="5" height="4" fill="#fff"/>
<rect x="182" y="438" width="5" height="4" fill="#fff"/>
<rect x="166" y="444" width="5" height="4" fill="#fff"/>
<rect x="182" y="444" width="5" height="4" fill="#fff"/>
<rect x="166" y="450" width="5" height="4" fill="#fff"/>
<rect x="182" y="450" width="5" height="4" fill="#fff"/>
<rect x="166" y="456" width="5" height="4" fill="#fff"/>
<rect x="182" y="456" width="5" height="4" fill="#fff"/>
<rect x="174" y="383" width="5" height="33" fill="#fff"/>
<rect x="174" y="420" width="5" height="36" fill="#fff"/>
<rect x="175" y="460" width="3" height="2" fill="#fff"/>
<rect x="176" y="459" width="1" height="1" fill="#fff"/>
<rect x="190" y="378" width="25" height="84" fill="#000"/>
<rect x="192" y="380" width="6" height="4" fill="#fff"/>
<rect x="208" y="380" width="5" height="4" fill="#fff"/>
<rect x="192" y="386" width="6" height="3" fill="#fff"/>
<rect x="208" y="386" width="5" height="3" fill="#fff"/>
<rect x="192" y="392" width="6" height="3" fill="#fff"/>
<rect x="208" y="392" width="5" height="3" fill="#fff"/>
<rect x="192" y="398" width="6" height="3" fill="#fff"/>
<rect x="208" y="398" width="5" height="3" fill="#fff"/>
<rect x="192" y="403" width="6" height="4" fill="#fff"/>
<rect x="208" y="403" width="5" height="4" fill="#fff"/>
<rect x="192" y="409" width="6" height="4" fill="#fff"/>
<rect x="208" y="409" width="5" height="4" fill="#fff"/>
<rect x="192" y="415" width="6" height="4" fill="#fff"/>
<rect x="208" y="415" width="5" height="4" fill="#fff"/>
<rect x="192" y="421" width="6" height="4" fill="#fff"/>
<rect x="208" y="421" width="5" height="4" fill="#fff"/>
<rect x="192" y="427" width="6" height="3" fill="#fff"/>
<rect x="208" y="427" width="5" height="3" fill="#fff"/>
<rect x="192" y="433" width="6" height="3" fill="#fff"/>
<rect x="208" y="433" width="5" height="3" fill="#fff"/>
<rect x="192" y="438" width="6" height="4" fill="#fff"/>
<rect x="208" y="438" width="5" height="4" fill="#fff"/>
<rect x="192" y="444" width="6" height="4" fill="#fff"/>
<rect x="208" y="444" width="5" height="4" fill="#fff"/>
<rect x="192" y="450" width="6" height="4" fill="#fff"/>
<rect x="208" y="450" width="5" height="4" fill="#fff"/>
<rect x="192" y="456" width="6" height="4" fill="#fff"/>
<rect x="208" y="456" width="5" height="4" fill="#fff"/>
<rect x="200" y="383" width="6" height="33" fill="#fff"/>
<rect x="200" y="420" width="6" height="36" fill="#fff"/>
<rect x="202" y="460" width="2" height="2" fill="#fff"/>
<rect x="202" y="459" width="2" height="1" fill="#fff"/>
<rect x="217" y="378" width="24" height="84" fill="#000"/>
<rect x="219" y="380" width="5" height="4" fill="#fff"/>
<rect x="234" y="380" width="5" height="4" fill="#fff"/>
<rect x="219" y="386" width="5" height="3" fill="#fff"/>
<rect x="234" y="386" width="5" height="3" fill="#fff"/>
<rect x="219" y="392" width="5" height="3" fill="#fff"/>
<rect x="234" y="392" width="5" height="3" fill="#fff"/>
<rect x="219" y="398" width="5" height="3" fill="#fff"/>
<rect x="234" y="398" width="5" height="3" fill="#fff"/>
<rect x="219" y="403" width="5" height="4" fill="#fff"/>
<rect x="234" y="403" width="5" height="4" fill="#fff"/>
<rect x="219" y="409" width="5" height="4" fill="#fff"/>
<rect x="234" y="409" width="5" height="4" fill="#fff"/>
<rect x="219" y="415" width="5" height="4" fill="#fff"/>
<rect x="234" y="415" width="5" height="4" fill="#fff"/>
<rect x="219" y="421" width="5" height="4" fill="#fff"/>
<rect x="234" y="421" width="5" height="4" fill="#fff"/>
<rect x="219" y="427" width="5" height="3" fill="#fff"/>
<rect x="234" y="427" width="5" height="3" fill="#fff"/>
<rect x="219" y="433" width="5" height="3" fill="#fff"/>
<rect x="234" y="433" width="5" height="3" fill="#fff"/>
<rect x="219" y="438" width="5" height="4" fill="#fff"/>
<rect x="234" y="438" width="5" height="4" fill="#fff"/>
<rect x="219" y="444" width="5" height="4" fill="#fff"/>
<rect x="234" y="444" width="5" height="4" fill="#fff"/>
<rect x="219" y="450" width="5" height="4" fill="#fff"/>
<rect x="234" y="450" width="5" height="4" fill="#fff"/>
<rect x="219" y="456" width="5" height="4" fill="#fff"/>
<rect x="234" y="456" width="5" height="4" fill="#fff"/>
<rect x="227" y="383" width="5" height="33" fill="#fff"/>
<rect x="227" y="420" width="5" height="36" fill="#fff"/>
<rect x="228" y="460" width="3" height="2" fill="#fff"/>
<rect x="229" y="459" width="1" height="1" fill="#fff"/>
<rect x="243" y="378" width="25" height="84" fill="#000"/>
<rect x="245" y="380" width="5" height="4" fill="#fff"/>
<rect x="260" y="380" width="6" height="4" fill="#fff"/>
<rect x="245" y="386" width="5" height="3" fill="#fff"/>
<rect x="260" y="386" width="6" height="3" fill="#fff"/>
<rect x="245" y="392" width="5" height="3" fill="#fff"/>
<rect x="260" y="392" width="6" height="3" fill="#fff"/>
<rect x="245" y="398" width="5" height="3" fill="#fff"/>
<rect x="260" y="398" width="6" height="3" fill="#fff"/>
<rect x="245" y="403" width="5" height="4" fill="#fff"/>
<rect x="260" y="403" width="6" height="4" fill="#fff"/>
<rect x="245" y="409" width="5" height="4" fill="#fff"/>
<rect x="260" y="409" width="6" height="4" fill="#fff"/>
<rect x="245" y="415" width="5" height="4" fill="#fff"/>
<rect x="260" y="415" width="6" height="4" fill="#fff"/>
<rect x="245" y="421" width="5" height="4" fill="#fff"/>
<rect x="260" y="421" width="6" height="4" fill="#fff"/>
<rect x="245" y="427" width="5" height="3" fill="#fff"/>
<rect x="260" y="427" width="6" height="3" fill="#fff"/>
<rect x="245" y="433" width="5" height="3" fill="#fff"/>
<rect x="260" y="433" width="6" height="3" fill="#fff"/>
<rect x="245" y="438" width="5" height="4" fill="#fff"/>
<rect x="260" y="438" width="6" height="4" fill="#fff"/>
<rect x="245" y="444" width="5" height="4" fill="#fff"/>
<rect x="260" y="444" width="6" height="4" fill="#fff"/>
<rect x="245" y="450" width="5" height="4" fill="#fff"/>
<rect x="260" y="450" width="6" height="4" fill="#fff"/>
<rect x="245" y="456" width="5" height="4" fill="#fff"/>
<rect x="260" y="456" width="6" height="4" fill="#fff"/>
<rect x="253" y="383" width="5" height="33" fill="#fff"/>
<rect x="253" y="420" width="5" height="36" fill="#fff"/>
<rect x="254" y="460" width="3" height="2" fill="#fff"/>
<rect x="255" y="459" width="1" height="1" fill="#fff"/>
<rect x="134" y="410" width="58" height="19" fill="#000"/>
<rect x="136" y="413" width="55" height="14" rx="1" fill="#fff"/>
<g font-family="Liberation Sans" font-size="14" font-weight="normal" fill="#000" filter="url(#crisp)"><text transform="translate(139.075 425) scale(0.8052 1)" x="0" y="0">B</text><text transform="translate(147.979 425) scale(0.7541 1)" x="0" y="0">A</text><text transform="translate(157.119 425) scale(0.7672 1)" x="0" y="0">N</text><text transform="translate(166.142 425) scale(0.7470 1)" x="0" y="0">K</text><text transform="translate(180.591 425) scale(0.7471 1)" x="0" y="0">0</text></g>
<line x1="63" y1="464.5" x2="266" y2="464.5" stroke="#000" stroke-width="1"/>
<line x1="56" y1="459" x2="63" y2="464.5" stroke="#000" stroke-width="1"/>
<line x1="266" y1="464.5" x2="270" y2="460" stroke="#000" stroke-width="1"/>
<line x1="154.5" y1="464.5" x2="161.5" y2="471" stroke="#000" stroke-width="1"/>
<line x1="168.5" y1="464.5" x2="161.5" y2="471" stroke="#000" stroke-width="1"/>
<rect x="136" y="471" width="51" height="19" rx="3.5" fill="#000"/>
<rect x="139" y="473" width="46" height="14" rx="1.5" fill="#fff"/>
<g font-family="Liberation Sans" font-size="14" font-weight="normal" fill="#000" filter="url(#crisp)"><text transform="translate(139.519 484) scale(0.6767 1)" x="0" y="0">C</text><text transform="translate(148.979 484) scale(0.7541 1)" x="0" y="0">A</text><text transform="translate(158.519 484) scale(0.6767 1)" x="0" y="0">C</text><text transform="translate(168.119 484) scale(0.7672 1)" x="0" y="0">H</text><text transform="translate(177.243 484) scale(0.6589 1)" x="0" y="0">E</text></g>
<rect x="272" y="265" width="24" height="84" fill="#000"/>
<rect x="274" y="268" width="5" height="3" fill="#fff"/>
<rect x="289" y="268" width="5" height="3" fill="#fff"/>
<rect x="274" y="274" width="5" height="3" fill="#fff"/>
<rect x="289" y="274" width="5" height="3" fill="#fff"/>
<rect x="274" y="279" width="5" height="3" fill="#fff"/>
<rect x="289" y="279" width="5" height="3" fill="#fff"/>
<rect x="274" y="285" width="5" height="3" fill="#fff"/>
<rect x="289" y="285" width="5" height="3" fill="#fff"/>
<rect x="274" y="290" width="5" height="3" fill="#fff"/>
<rect x="289" y="290" width="5" height="3" fill="#fff"/>
<rect x="274" y="296" width="5" height="3" fill="#fff"/>
<rect x="289" y="296" width="5" height="3" fill="#fff"/>
<rect x="274" y="302" width="5" height="3" fill="#fff"/>
<rect x="289" y="302" width="5" height="3" fill="#fff"/>
<rect x="274" y="307" width="5" height="3" fill="#fff"/>
<rect x="289" y="307" width="5" height="3" fill="#fff"/>
<rect x="274" y="313" width="5" height="3" fill="#fff"/>
<rect x="289" y="313" width="5" height="3" fill="#fff"/>
<rect x="274" y="318" width="5" height="3" fill="#fff"/>
<rect x="289" y="318" width="5" height="3" fill="#fff"/>
<rect x="274" y="324" width="5" height="3" fill="#fff"/>
<rect x="289" y="324" width="5" height="3" fill="#fff"/>
<rect x="274" y="330" width="5" height="3" fill="#fff"/>
<rect x="289" y="330" width="5" height="3" fill="#fff"/>
<rect x="274" y="335" width="5" height="3" fill="#fff"/>
<rect x="289" y="335" width="5" height="3" fill="#fff"/>
<rect x="274" y="341" width="5" height="3" fill="#fff"/>
<rect x="289" y="341" width="5" height="3" fill="#fff"/>
<rect x="274" y="346" width="5" height="3" fill="#fff"/>
<rect x="289" y="346" width="5" height="3" fill="#fff"/>
<rect x="281" y="270" width="6" height="75" fill="#fff"/>
<rect x="306" y="265" width="24" height="84" fill="#000"/>
<rect x="308" y="268" width="5" height="3" fill="#fff"/>
<rect x="323" y="268" width="5" height="3" fill="#fff"/>
<rect x="308" y="274" width="5" height="3" fill="#fff"/>
<rect x="323" y="274" width="5" height="3" fill="#fff"/>
<rect x="308" y="279" width="5" height="3" fill="#fff"/>
<rect x="323" y="279" width="5" height="3" fill="#fff"/>
<rect x="308" y="285" width="5" height="3" fill="#fff"/>
<rect x="323" y="285" width="5" height="3" fill="#fff"/>
<rect x="308" y="290" width="5" height="3" fill="#fff"/>
<rect x="323" y="290" width="5" height="3" fill="#fff"/>
<rect x="308" y="296" width="5" height="3" fill="#fff"/>
<rect x="323" y="296" width="5" height="3" fill="#fff"/>
<rect x="308" y="302" width="5" height="3" fill="#fff"/>
<rect x="323" y="302" width="5" height="3" fill="#fff"/>
<rect x="308" y="307" width="5" height="3" fill="#fff"/>
<rect x="323" y="307" width="5" height="3" fill="#fff"/>
<rect x="308" y="313" width="5" height="3" fill="#fff"/>
<rect x="323" y="313" width="5" height="3" fill="#fff"/>
<rect x="308" y="318" width="5" height="3" fill="#fff"/>
<rect x="323" y="318" width="5" height="3" fill="#fff"/>
<rect x="308" y="324" width="5" height="3" fill="#fff"/>
<rect x="323" y="324" width="5" height="3" fill="#fff"/>
<rect x="308" y="330" width="5" height="3" fill="#fff"/>
<rect x="323" y="330" width="5" height="3" fill="#fff"/>
<rect x="308" y="335" width="5" height="3" fill="#fff"/>
<rect x="323" y="335" width="5" height="3" fill="#fff"/>
<rect x="308" y="341" width="5" height="3" fill="#fff"/>
<rect x="323" y="341" width="5" height="3" fill="#fff"/>
<rect x="308" y="346" width="5" height="3" fill="#fff"/>
<rect x="323" y="346" width="5" height="3" fill="#fff"/>
<rect x="315" y="270" width="6" height="75" fill="#fff"/>
<rect x="267" y="298" width="33" height="18" rx="3.5" fill="#000"/>
<rect x="269" y="300" width="29" height="14" rx="1.5" fill="#fff"/>
<rect x="283" y="302" width="1" height="10" fill="#000"/>
<rect x="282" y="303" width="1" height="1" fill="#000"/>
<rect x="281" y="304" width="1" height="1" fill="#000"/>
<g font-family="Liberation Sans" font-size="14" font-weight="normal" fill="#000" filter="url(#crisp)"><text transform="translate(271.185 312) scale(0.7547 1)" x="0" y="0">U</text><text transform="translate(288.537 312) scale(0.7611 1)" x="0" y="0">8</text></g>
<rect x="302" y="298" width="33" height="18" rx="3.5" fill="#000"/>
<rect x="304" y="300" width="29" height="14" rx="1.5" fill="#fff"/>
<rect x="317" y="301" width="1" height="10" fill="#000"/>
<rect x="316" y="302" width="1" height="1" fill="#000"/>
<rect x="315" y="303" width="1" height="1" fill="#000"/>
<g font-family="Liberation Sans" font-size="14" font-weight="normal" fill="#000" filter="url(#crisp)"><text transform="translate(305.185 311) scale(0.7547 1)" x="0" y="0">U</text><text transform="translate(322.436 311) scale(0.7856 1)" x="0" y="0">7</text></g>
<path d="M331 265.5 L339.5 269.5 L339.5 305 L344.5 309.8 L339.5 314.5 L339.5 348 L333 352" stroke="#000" stroke-width="1" fill="none"/>
<rect x="344.5" y="299" width="32.5" height="18.5" rx="3.5" fill="#000"/>
<rect x="346.5" y="301" width="28.5" height="14.5" rx="1.5" fill="#fff"/>
<g font-family="Liberation Sans" font-size="14" font-weight="normal" fill="#000" filter="url(#crisp)"><text transform="translate(347.762 314) scale(0.7580 1)" x="0" y="0">T</text><text transform="translate(354.979 314) scale(0.7541 1)" x="0" y="0">A</text><text transform="translate(363.461 314) scale(0.7659 1)" x="0" y="0">G</text></g>
<rect x="514" y="379" width="119" height="13" fill="#000"/>
<rect x="515" y="380" width="117" height="11" fill="#fff"/>
<rect x="516" y="381" width="115" height="10" fill="#000"/>
<rect x="516" y="385" width="115" height="1" fill="#fff"/>
<rect x="520" y="381" width="1" height="10" fill="#fff"/>
<rect x="526" y="381" width="1" height="10" fill="#fff"/>
<rect x="532" y="381" width="1" height="10" fill="#fff"/>
<rect x="538" y="381" width="1" height="10" fill="#fff"/>
<rect x="544" y="381" width="1" height="10" fill="#fff"/>
<rect x="550" y="381" width="1" height="10" fill="#fff"/>
<rect x="556" y="381" width="1" height="10" fill="#fff"/>
<rect x="562" y="381" width="1" height="10" fill="#fff"/>
<rect x="568" y="381" width="1" height="10" fill="#fff"/>
<rect x="573" y="381" width="1" height="10" fill="#fff"/>
<rect x="579" y="381" width="1" height="10" fill="#fff"/>
<rect x="585" y="381" width="1" height="10" fill="#fff"/>
<rect x="591" y="381" width="1" height="10" fill="#fff"/>
<rect x="597" y="381" width="1" height="10" fill="#fff"/>
<rect x="603" y="381" width="1" height="10" fill="#fff"/>
<rect x="609" y="381" width="1" height="10" fill="#fff"/>
<rect x="615" y="381" width="1" height="10" fill="#fff"/>
<rect x="620" y="381" width="1" height="10" fill="#fff"/>
<rect x="626" y="381" width="1" height="10" fill="#fff"/>
<rect x="628" y="382" width="2" height="2" fill="#fff"/>
<rect x="514" y="396" width="119" height="12" fill="#000"/>
<rect x="515" y="397" width="117" height="10" fill="#fff"/>
<rect x="516" y="398" width="115" height="9" fill="#000"/>
<rect x="516" y="402" width="115" height="1" fill="#fff"/>
<rect x="520" y="398" width="1" height="9" fill="#fff"/>
<rect x="526" y="398" width="1" height="9" fill="#fff"/>
<rect x="532" y="398" width="1" height="9" fill="#fff"/>
<rect x="538" y="398" width="1" height="9" fill="#fff"/>
<rect x="544" y="398" width="1" height="9" fill="#fff"/>
<rect x="550" y="398" width="1" height="9" fill="#fff"/>
<rect x="556" y="398" width="1" height="9" fill="#fff"/>
<rect x="562" y="398" width="1" height="9" fill="#fff"/>
<rect x="568" y="398" width="1" height="9" fill="#fff"/>
<rect x="573" y="398" width="1" height="9" fill="#fff"/>
<rect x="579" y="398" width="1" height="9" fill="#fff"/>
<rect x="585" y="398" width="1" height="9" fill="#fff"/>
<rect x="591" y="398" width="1" height="9" fill="#fff"/>
<rect x="597" y="398" width="1" height="9" fill="#fff"/>
<rect x="603" y="398" width="1" height="9" fill="#fff"/>
<rect x="609" y="398" width="1" height="9" fill="#fff"/>
<rect x="615" y="398" width="1" height="9" fill="#fff"/>
<rect x="620" y="398" width="1" height="9" fill="#fff"/>
<rect x="626" y="398" width="1" height="9" fill="#fff"/>
<rect x="628" y="399" width="2" height="2" fill="#fff"/>
<rect x="471" y="380" width="26" height="7" fill="#000"/>
<rect x="472" y="381" width="24" height="5" fill="#fff"/>
<rect x="473" y="382" width="23" height="4" fill="#000"/>
<rect x="477" y="382" width="1" height="4" fill="#fff"/>
<rect x="484" y="382" width="1" height="4" fill="#fff"/>
<rect x="490" y="382" width="1" height="4" fill="#fff"/>
<rect x="492" y="383" width="3" height="2" fill="#fff"/>
<rect x="377" y="428" width="278" height="16" fill="#000"/>
<rect x="378" y="429" width="276" height="14" fill="#fff"/>
<rect x="378" y="431" width="7" height="1" fill="#000"/>
<rect x="647" y="431" width="7" height="1" fill="#000"/>
<rect x="378" y="437" width="7" height="1" fill="#000"/>
<rect x="647" y="437" width="7" height="1" fill="#000"/>
<rect x="385" y="429" width="4" height="13" fill="#000"/>
<rect x="643" y="429" width="4" height="13" fill="#000"/>
<rect x="388" y="430" width="10" height="1" fill="#000"/>
<rect x="634" y="430" width="10" height="1" fill="#000"/>
<rect x="397" y="430" width="1" height="9" fill="#000"/>
<rect x="634" y="430" width="1" height="9" fill="#000"/>
<rect x="395" y="438" width="3" height="1" fill="#000"/>
<rect x="634" y="438" width="3" height="1" fill="#000"/>
<rect x="395" y="438" width="1" height="4" fill="#000"/>
<rect x="636" y="438" width="1" height="4" fill="#000"/>
<rect x="389" y="441" width="7" height="1" fill="#000"/>
<rect x="636" y="441" width="7" height="1" fill="#000"/>
<rect x="389" y="437" width="7" height="1" fill="#000"/>
<rect x="636" y="437" width="7" height="1" fill="#000"/>
<rect x="389" y="437" width="1" height="5" fill="#000"/>
<rect x="642" y="437" width="1" height="5" fill="#000"/>
<rect x="400" y="430" width="231" height="11" fill="#000"/>
<rect x="402" y="431" width="1" height="5" fill="#fff"/>
<rect x="404" y="431" width="1" height="5" fill="#fff"/>
<rect x="407" y="431" width="1" height="5" fill="#fff"/>
<rect x="409" y="431" width="1" height="5" fill="#fff"/>
<rect x="414" y="431" width="1" height="5" fill="#fff"/>
<rect x="417" y="431" width="1" height="5" fill="#fff"/>
<rect x="419" y="431" width="1" height="5" fill="#fff"/>
<rect x="422" y="431" width="1" height="5" fill="#fff"/>
<rect x="424" y="431" width="1" height="5" fill="#fff"/>
<rect x="426" y="431" width="1" height="5" fill="#fff"/>
<rect x="429" y="431" width="1" height="5" fill="#fff"/>
<rect x="431" y="431" width="1" height="5" fill="#fff"/>
<rect x="436" y="431" width="1" height="5" fill="#fff"/>
<rect x="439" y="431" width="1" height="5" fill="#fff"/>
<rect x="441" y="431" width="1" height="5" fill="#fff"/>
<rect x="444" y="431" width="1" height="5" fill="#fff"/>
<rect x="446" y="431" width="1" height="5" fill="#fff"/>
<rect x="449" y="431" width="1" height="5" fill="#fff"/>
<rect x="451" y="431" width="1" height="5" fill="#fff"/>
<rect x="453" y="431" width="1" height="5" fill="#fff"/>
<rect x="458" y="431" width="1" height="5" fill="#fff"/>
<rect x="461" y="431" width="1" height="5" fill="#fff"/>
<rect x="463" y="431" width="1" height="5" fill="#fff"/>
<rect x="466" y="431" width="1" height="5" fill="#fff"/>
<rect x="468" y="431" width="1" height="5" fill="#fff"/>
<rect x="471" y="431" width="1" height="5" fill="#fff"/>
<rect x="473" y="431" width="1" height="5" fill="#fff"/>
<rect x="475" y="431" width="1" height="5" fill="#fff"/>
<rect x="480" y="431" width="1" height="5" fill="#fff"/>
<rect x="483" y="431" width="1" height="5" fill="#fff"/>
<rect x="485" y="431" width="1" height="5" fill="#fff"/>
<rect x="488" y="431" width="1" height="5" fill="#fff"/>
<rect x="490" y="431" width="1" height="5" fill="#fff"/>
<rect x="493" y="431" width="1" height="5" fill="#fff"/>
<rect x="495" y="431" width="1" height="5" fill="#fff"/>
<rect x="498" y="431" width="1" height="5" fill="#fff"/>
<rect x="502" y="431" width="1" height="5" fill="#fff"/>
<rect x="505" y="431" width="1" height="5" fill="#fff"/>
<rect x="507" y="431" width="1" height="5" fill="#fff"/>
<rect x="510" y="431" width="1" height="5" fill="#fff"/>
<rect x="512" y="431" width="1" height="5" fill="#fff"/>
<rect x="515" y="431" width="1" height="5" fill="#fff"/>
<rect x="517" y="431" width="1" height="5" fill="#fff"/>
<rect x="520" y="431" width="1" height="5" fill="#fff"/>
<rect x="524" y="431" width="1" height="5" fill="#fff"/>
<rect x="527" y="431" width="1" height="5" fill="#fff"/>
<rect x="529" y="431" width="1" height="5" fill="#fff"/>
<rect x="532" y="431" width="1" height="5" fill="#fff"/>
<rect x="534" y="431" width="1" height="5" fill="#fff"/>
<rect x="537" y="431" width="1" height="5" fill="#fff"/>
<rect x="539" y="431" width="1" height="5" fill="#fff"/>
<rect x="542" y="431" width="1" height="5" fill="#fff"/>
<rect x="547" y="431" width="1" height="5" fill="#fff"/>
<rect x="549" y="431" width="1" height="5" fill="#fff"/>
<rect x="551" y="431" width="1" height="5" fill="#fff"/>
<rect x="554" y="431" width="1" height="5" fill="#fff"/>
<rect x="556" y="431" width="1" height="5" fill="#fff"/>
<rect x="559" y="431" width="1" height="5" fill="#fff"/>
<rect x="561" y="431" width="1" height="5" fill="#fff"/>
<rect x="564" y="431" width="1" height="5" fill="#fff"/>
<rect x="569" y="431" width="1" height="5" fill="#fff"/>
<rect x="571" y="431" width="1" height="5" fill="#fff"/>
<rect x="574" y="431" width="1" height="5" fill="#fff"/>
<rect x="576" y="431" width="1" height="5" fill="#fff"/>
<rect x="578" y="431" width="1" height="5" fill="#fff"/>
<rect x="581" y="431" width="1" height="5" fill="#fff"/>
<rect x="583" y="431" width="1" height="5" fill="#fff"/>
<rect x="586" y="431" width="1" height="5" fill="#fff"/>
<rect x="591" y="431" width="1" height="5" fill="#fff"/>
<rect x="593" y="431" width="1" height="5" fill="#fff"/>
<rect x="596" y="431" width="1" height="5" fill="#fff"/>
<rect x="598" y="431" width="1" height="5" fill="#fff"/>
<rect x="600" y="431" width="1" height="5" fill="#fff"/>
<rect x="603" y="431" width="1" height="5" fill="#fff"/>
<rect x="605" y="431" width="1" height="5" fill="#fff"/>
<rect x="608" y="431" width="1" height="5" fill="#fff"/>
<rect x="613" y="431" width="1" height="5" fill="#fff"/>
<rect x="615" y="431" width="1" height="5" fill="#fff"/>
<rect x="618" y="431" width="1" height="5" fill="#fff"/>
<rect x="620" y="431" width="1" height="5" fill="#fff"/>
<rect x="623" y="431" width="1" height="5" fill="#fff"/>
<rect x="625" y="431" width="1" height="5" fill="#fff"/>
<rect x="627" y="431" width="1" height="5" fill="#fff"/>
<rect x="377" y="444" width="278" height="16" fill="#000"/>
<rect x="378" y="445" width="276" height="14" fill="#fff"/>
<rect x="378" y="447" width="7" height="1" fill="#000"/>
<rect x="647" y="447" width="7" height="1" fill="#000"/>
<rect x="378" y="453" width="7" height="1" fill="#000"/>
<rect x="647" y="453" width="7" height="1" fill="#000"/>
<rect x="385" y="445" width="4" height="13" fill="#000"/>
<rect x="643" y="445" width="4" height="13" fill="#000"/>
<rect x="388" y="446" width="10" height="1" fill="#000"/>
<rect x="634" y="446" width="10" height="1" fill="#000"/>
<rect x="397" y="446" width="1" height="9" fill="#000"/>
<rect x="634" y="446" width="1" height="9" fill="#000"/>
<rect x="395" y="454" width="3" height="1" fill="#000"/>
<rect x="634" y="454" width="3" height="1" fill="#000"/>
<rect x="395" y="454" width="1" height="4" fill="#000"/>
<rect x="636" y="454" width="1" height="4" fill="#000"/>
<rect x="389" y="457" width="7" height="1" fill="#000"/>
<rect x="636" y="457" width="7" height="1" fill="#000"/>
<rect x="389" y="453" width="7" height="1" fill="#000"/>
<rect x="636" y="453" width="7" height="1" fill="#000"/>
<rect x="389" y="453" width="1" height="5" fill="#000"/>
<rect x="642" y="453" width="1" height="5" fill="#000"/>
<rect x="400" y="446" width="231" height="11" fill="#000"/>
<rect x="402" y="447" width="1" height="5" fill="#fff"/>
<rect x="404" y="447" width="1" height="5" fill="#fff"/>
<rect x="407" y="447" width="1" height="5" fill="#fff"/>
<rect x="409" y="447" width="1" height="5" fill="#fff"/>
<rect x="414" y="447" width="1" height="5" fill="#fff"/>
<rect x="417" y="447" width="1" height="5" fill="#fff"/>
<rect x="419" y="447" width="1" height="5" fill="#fff"/>
<rect x="422" y="447" width="1" height="5" fill="#fff"/>
<rect x="424" y="447" width="1" height="5" fill="#fff"/>
<rect x="426" y="447" width="1" height="5" fill="#fff"/>
<rect x="429" y="447" width="1" height="5" fill="#fff"/>
<rect x="431" y="447" width="1" height="5" fill="#fff"/>
<rect x="436" y="447" width="1" height="5" fill="#fff"/>
<rect x="439" y="447" width="1" height="5" fill="#fff"/>
<rect x="441" y="447" width="1" height="5" fill="#fff"/>
<rect x="444" y="447" width="1" height="5" fill="#fff"/>
<rect x="446" y="447" width="1" height="5" fill="#fff"/>
<rect x="449" y="447" width="1" height="5" fill="#fff"/>
<rect x="451" y="447" width="1" height="5" fill="#fff"/>
<rect x="453" y="447" width="1" height="5" fill="#fff"/>
<rect x="458" y="447" width="1" height="5" fill="#fff"/>
<rect x="461" y="447" width="1" height="5" fill="#fff"/>
<rect x="463" y="447" width="1" height="5" fill="#fff"/>
<rect x="466" y="447" width="1" height="5" fill="#fff"/>
<rect x="468" y="447" width="1" height="5" fill="#fff"/>
<rect x="471" y="447" width="1" height="5" fill="#fff"/>
<rect x="473" y="447" width="1" height="5" fill="#fff"/>
<rect x="475" y="447" width="1" height="5" fill="#fff"/>
<rect x="480" y="447" width="1" height="5" fill="#fff"/>
<rect x="483" y="447" width="1" height="5" fill="#fff"/>
<rect x="485" y="447" width="1" height="5" fill="#fff"/>
<rect x="488" y="447" width="1" height="5" fill="#fff"/>
<rect x="490" y="447" width="1" height="5" fill="#fff"/>
<rect x="493" y="447" width="1" height="5" fill="#fff"/>
<rect x="495" y="447" width="1" height="5" fill="#fff"/>
<rect x="498" y="447" width="1" height="5" fill="#fff"/>
<rect x="502" y="447" width="1" height="5" fill="#fff"/>
<rect x="505" y="447" width="1" height="5" fill="#fff"/>
<rect x="507" y="447" width="1" height="5" fill="#fff"/>
<rect x="510" y="447" width="1" height="5" fill="#fff"/>
<rect x="512" y="447" width="1" height="5" fill="#fff"/>
<rect x="515" y="447" width="1" height="5" fill="#fff"/>
<rect x="517" y="447" width="1" height="5" fill="#fff"/>
<rect x="520" y="447" width="1" height="5" fill="#fff"/>
<rect x="524" y="447" width="1" height="5" fill="#fff"/>
<rect x="527" y="447" width="1" height="5" fill="#fff"/>
<rect x="529" y="447" width="1" height="5" fill="#fff"/>
<rect x="532" y="447" width="1" height="5" fill="#fff"/>
<rect x="534" y="447" width="1" height="5" fill="#fff"/>
<rect x="537" y="447" width="1" height="5" fill="#fff"/>
<rect x="539" y="447" width="1" height="5" fill="#fff"/>
<rect x="542" y="447" width="1" height="5" fill="#fff"/>
<rect x="547" y="447" width="1" height="5" fill="#fff"/>
<rect x="549" y="447" width="1" height="5" fill="#fff"/>
<rect x="551" y="447" width="1" height="5" fill="#fff"/>
<rect x="554" y="447" width="1" height="5" fill="#fff"/>
<rect x="556" y="447" width="1" height="5" fill="#fff"/>
<rect x="559" y="447" width="1" height="5" fill="#fff"/>
<rect x="561" y="447" width="1" height="5" fill="#fff"/>
<rect x="564" y="447" width="1" height="5" fill="#fff"/>
<rect x="569" y="447" width="1" height="5" fill="#fff"/>
<rect x="571" y="447" width="1" height="5" fill="#fff"/>
<rect x="574" y="447" width="1" height="5" fill="#fff"/>
<rect x="576" y="447" width="1" height="5" fill="#fff"/>
<rect x="578" y="447" width="1" height="5" fill="#fff"/>
<rect x="581" y="447" width="1" height="5" fill="#fff"/>
<rect x="583" y="447" width="1" height="5" fill="#fff"/>
<rect x="586" y="447" width="1" height="5" fill="#fff"/>
<rect x="591" y="447" width="1" height="5" fill="#fff"/>
<rect x="593" y="447" width="1" height="5" fill="#fff"/>
<rect x="596" y="447" width="1" height="5" fill="#fff"/>
<rect x="598" y="447" width="1" height="5" fill="#fff"/>
<rect x="600" y="447" width="1" height="5" fill="#fff"/>
<rect x="603" y="447" width="1" height="5" fill="#fff"/>
<rect x="605" y="447" width="1" height="5" fill="#fff"/>
<rect x="608" y="447" width="1" height="5" fill="#fff"/>
<rect x="613" y="447" width="1" height="5" fill="#fff"/>
<rect x="615" y="447" width="1" height="5" fill="#fff"/>
<rect x="618" y="447" width="1" height="5" fill="#fff"/>
<rect x="620" y="447" width="1" height="5" fill="#fff"/>
<rect x="623" y="447" width="1" height="5" fill="#fff"/>
<rect x="625" y="447" width="1" height="5" fill="#fff"/>
<rect x="627" y="447" width="1" height="5" fill="#fff"/>
<rect x="377" y="461" width="278" height="16" fill="#000"/>
<rect x="378" y="462" width="276" height="14" fill="#fff"/>
<rect x="378" y="464" width="7" height="1" fill="#000"/>
<rect x="647" y="464" width="7" height="1" fill="#000"/>
<rect x="378" y="470" width="7" height="1" fill="#000"/>
<rect x="647" y="470" width="7" height="1" fill="#000"/>
<rect x="385" y="462" width="4" height="13" fill="#000"/>
<rect x="643" y="462" width="4" height="13" fill="#000"/>
<rect x="388" y="463" width="10" height="1" fill="#000"/>
<rect x="634" y="463" width="10" height="1" fill="#000"/>
<rect x="397" y="463" width="1" height="9" fill="#000"/>
<rect x="634" y="463" width="1" height="9" fill="#000"/>
<rect x="395" y="471" width="3" height="1" fill="#000"/>
<rect x="634" y="471" width="3" height="1" fill="#000"/>
<rect x="395" y="471" width="1" height="4" fill="#000"/>
<rect x="636" y="471" width="1" height="4" fill="#000"/>
<rect x="389" y="474" width="7" height="1" fill="#000"/>
<rect x="636" y="474" width="7" height="1" fill="#000"/>
<rect x="389" y="470" width="7" height="1" fill="#000"/>
<rect x="636" y="470" width="7" height="1" fill="#000"/>
<rect x="389" y="470" width="1" height="5" fill="#000"/>
<rect x="642" y="470" width="1" height="5" fill="#000"/>
<rect x="400" y="463" width="231" height="11" fill="#000"/>
<rect x="402" y="464" width="1" height="5" fill="#fff"/>
<rect x="404" y="464" width="1" height="5" fill="#fff"/>
<rect x="407" y="464" width="1" height="5" fill="#fff"/>
<rect x="409" y="464" width="1" height="5" fill="#fff"/>
<rect x="414" y="464" width="1" height="5" fill="#fff"/>
<rect x="417" y="464" width="1" height="5" fill="#fff"/>
<rect x="419" y="464" width="1" height="5" fill="#fff"/>
<rect x="422" y="464" width="1" height="5" fill="#fff"/>
<rect x="424" y="464" width="1" height="5" fill="#fff"/>
<rect x="426" y="464" width="1" height="5" fill="#fff"/>
<rect x="429" y="464" width="1" height="5" fill="#fff"/>
<rect x="431" y="464" width="1" height="5" fill="#fff"/>
<rect x="436" y="464" width="1" height="5" fill="#fff"/>
<rect x="439" y="464" width="1" height="5" fill="#fff"/>
<rect x="441" y="464" width="1" height="5" fill="#fff"/>
<rect x="444" y="464" width="1" height="5" fill="#fff"/>
<rect x="446" y="464" width="1" height="5" fill="#fff"/>
<rect x="449" y="464" width="1" height="5" fill="#fff"/>
<rect x="451" y="464" width="1" height="5" fill="#fff"/>
<rect x="453" y="464" width="1" height="5" fill="#fff"/>
<rect x="458" y="464" width="1" height="5" fill="#fff"/>
<rect x="461" y="464" width="1" height="5" fill="#fff"/>
<rect x="463" y="464" width="1" height="5" fill="#fff"/>
<rect x="466" y="464" width="1" height="5" fill="#fff"/>
<rect x="468" y="464" width="1" height="5" fill="#fff"/>
<rect x="471" y="464" width="1" height="5" fill="#fff"/>
<rect x="473" y="464" width="1" height="5" fill="#fff"/>
<rect x="475" y="464" width="1" height="5" fill="#fff"/>
<rect x="480" y="464" width="1" height="5" fill="#fff"/>
<rect x="483" y="464" width="1" height="5" fill="#fff"/>
<rect x="485" y="464" width="1" height="5" fill="#fff"/>
<rect x="488" y="464" width="1" height="5" fill="#fff"/>
<rect x="490" y="464" width="1" height="5" fill="#fff"/>
<rect x="493" y="464" width="1" height="5" fill="#fff"/>
<rect x="495" y="464" width="1" height="5" fill="#fff"/>
<rect x="498" y="464" width="1" height="5" fill="#fff"/>
<rect x="502" y="464" width="1" height="5" fill="#fff"/>
<rect x="505" y="464" width="1" height="5" fill="#fff"/>
<rect x="507" y="464" width="1" height="5" fill="#fff"/>
<rect x="510" y="464" width="1" height="5" fill="#fff"/>
<rect x="512" y="464" width="1" height="5" fill="#fff"/>
<rect x="515" y="464" width="1" height="5" fill="#fff"/>
<rect x="517" y="464" width="1" height="5" fill="#fff"/>
<rect x="520" y="464" width="1" height="5" fill="#fff"/>
<rect x="524" y="464" width="1" height="5" fill="#fff"/>
<rect x="527" y="464" width="1" height="5" fill="#fff"/>
<rect x="529" y="464" width="1" height="5" fill="#fff"/>
<rect x="532" y="464" width="1" height="5" fill="#fff"/>
<rect x="534" y="464" width="1" height="5" fill="#fff"/>
<rect x="537" y="464" width="1" height="5" fill="#fff"/>
<rect x="539" y="464" width="1" height="5" fill="#fff"/>
<rect x="542" y="464" width="1" height="5" fill="#fff"/>
<rect x="547" y="464" width="1" height="5" fill="#fff"/>
<rect x="549" y="464" width="1" height="5" fill="#fff"/>
<rect x="551" y="464" width="1" height="5" fill="#fff"/>
<rect x="554" y="464" width="1" height="5" fill="#fff"/>
<rect x="556" y="464" width="1" height="5" fill="#fff"/>
<rect x="559" y="464" width="1" height="5" fill="#fff"/>
<rect x="561" y="464" width="1" height="5" fill="#fff"/>
<rect x="564" y="464" width="1" height="5" fill="#fff"/>
<rect x="569" y="464" width="1" height="5" fill="#fff"/>
<rect x="571" y="464" width="1" height="5" fill="#fff"/>
<rect x="574" y="464" width="1" height="5" fill="#fff"/>
<rect x="576" y="464" width="1" height="5" fill="#fff"/>
<rect x="578" y="464" width="1" height="5" fill="#fff"/>
<rect x="581" y="464" width="1" height="5" fill="#fff"/>
<rect x="583" y="464" width="1" height="5" fill="#fff"/>
<rect x="586" y="464" width="1" height="5" fill="#fff"/>
<rect x="591" y="464" width="1" height="5" fill="#fff"/>
<rect x="593" y="464" width="1" height="5" fill="#fff"/>
<rect x="596" y="464" width="1" height="5" fill="#fff"/>
<rect x="598" y="464" width="1" height="5" fill="#fff"/>
<rect x="600" y="464" width="1" height="5" fill="#fff"/>
<rect x="603" y="464" width="1" height="5" fill="#fff"/>
<rect x="605" y="464" width="1" height="5" fill="#fff"/>
<rect x="608" y="464" width="1" height="5" fill="#fff"/>
<rect x="613" y="464" width="1" height="5" fill="#fff"/>
<rect x="615" y="464" width="1" height="5" fill="#fff"/>
<rect x="618" y="464" width="1" height="5" fill="#fff"/>
<rect x="620" y="464" width="1" height="5" fill="#fff"/>
<rect x="623" y="464" width="1" height="5" fill="#fff"/>
<rect x="625" y="464" width="1" height="5" fill="#fff"/>
<rect x="627" y="464" width="1" height="5" fill="#fff"/>
<rect x="377" y="478" width="278" height="16" fill="#000"/>
<rect x="378" y="479" width="276" height="14" fill="#fff"/>
<rect x="378" y="481" width="7" height="1" fill="#000"/>
<rect x="647" y="481" width="7" height="1" fill="#000"/>
<rect x="378" y="487" width="7" height="1" fill="#000"/>
<rect x="647" y="487" width="7" height="1" fill="#000"/>
<rect x="385" y="479" width="4" height="13" fill="#000"/>
<rect x="643" y="479" width="4" height="13" fill="#000"/>
<rect x="388" y="480" width="10" height="1" fill="#000"/>
<rect x="634" y="480" width="10" height="1" fill="#000"/>
<rect x="397" y="480" width="1" height="9" fill="#000"/>
<rect x="634" y="480" width="1" height="9" fill="#000"/>
<rect x="395" y="488" width="3" height="1" fill="#000"/>
<rect x="634" y="488" width="3" height="1" fill="#000"/>
<rect x="395" y="488" width="1" height="4" fill="#000"/>
<rect x="636" y="488" width="1" height="4" fill="#000"/>
<rect x="389" y="491" width="7" height="1" fill="#000"/>
<rect x="636" y="491" width="7" height="1" fill="#000"/>
<rect x="389" y="487" width="7" height="1" fill="#000"/>
<rect x="636" y="487" width="7" height="1" fill="#000"/>
<rect x="389" y="487" width="1" height="5" fill="#000"/>
<rect x="642" y="487" width="1" height="5" fill="#000"/>
<rect x="400" y="480" width="231" height="11" fill="#000"/>
<rect x="402" y="481" width="1" height="5" fill="#fff"/>
<rect x="404" y="481" width="1" height="5" fill="#fff"/>
<rect x="407" y="481" width="1" height="5" fill="#fff"/>
<rect x="409" y="481" width="1" height="5" fill="#fff"/>
<rect x="414" y="481" width="1" height="5" fill="#fff"/>
<rect x="417" y="481" width="1" height="5" fill="#fff"/>
<rect x="419" y="481" width="1" height="5" fill="#fff"/>
<rect x="422" y="481" width="1" height="5" fill="#fff"/>
<rect x="424" y="481" width="1" height="5" fill="#fff"/>
<rect x="426" y="481" width="1" height="5" fill="#fff"/>
<rect x="429" y="481" width="1" height="5" fill="#fff"/>
<rect x="431" y="481" width="1" height="5" fill="#fff"/>
<rect x="436" y="481" width="1" height="5" fill="#fff"/>
<rect x="439" y="481" width="1" height="5" fill="#fff"/>
<rect x="441" y="481" width="1" height="5" fill="#fff"/>
<rect x="444" y="481" width="1" height="5" fill="#fff"/>
<rect x="446" y="481" width="1" height="5" fill="#fff"/>
<rect x="449" y="481" width="1" height="5" fill="#fff"/>
<rect x="451" y="481" width="1" height="5" fill="#fff"/>
<rect x="453" y="481" width="1" height="5" fill="#fff"/>
<rect x="458" y="481" width="1" height="5" fill="#fff"/>
<rect x="461" y="481" width="1" height="5" fill="#fff"/>
<rect x="463" y="481" width="1" height="5" fill="#fff"/>
<rect x="466" y="481" width="1" height="5" fill="#fff"/>
<rect x="468" y="481" width="1" height="5" fill="#fff"/>
<rect x="471" y="481" width="1" height="5" fill="#fff"/>
<rect x="473" y="481" width="1" height="5" fill="#fff"/>
<rect x="475" y="481" width="1" height="5" fill="#fff"/>
<rect x="480" y="481" width="1" height="5" fill="#fff"/>
<rect x="483" y="481" width="1" height="5" fill="#fff"/>
<rect x="485" y="481" width="1" height="5" fill="#fff"/>
<rect x="488" y="481" width="1" height="5" fill="#fff"/>
<rect x="490" y="481" width="1" height="5" fill="#fff"/>
<rect x="493" y="481" width="1" height="5" fill="#fff"/>
<rect x="495" y="481" width="1" height="5" fill="#fff"/>
<rect x="498" y="481" width="1" height="5" fill="#fff"/>
<rect x="502" y="481" width="1" height="5" fill="#fff"/>
<rect x="505" y="481" width="1" height="5" fill="#fff"/>
<rect x="507" y="481" width="1" height="5" fill="#fff"/>
<rect x="510" y="481" width="1" height="5" fill="#fff"/>
<rect x="512" y="481" width="1" height="5" fill="#fff"/>
<rect x="515" y="481" width="1" height="5" fill="#fff"/>
<rect x="517" y="481" width="1" height="5" fill="#fff"/>
<rect x="520" y="481" width="1" height="5" fill="#fff"/>
<rect x="524" y="481" width="1" height="5" fill="#fff"/>
<rect x="527" y="481" width="1" height="5" fill="#fff"/>
<rect x="529" y="481" width="1" height="5" fill="#fff"/>
<rect x="532" y="481" width="1" height="5" fill="#fff"/>
<rect x="534" y="481" width="1" height="5" fill="#fff"/>
<rect x="537" y="481" width="1" height="5" fill="#fff"/>
<rect x="539" y="481" width="1" height="5" fill="#fff"/>
<rect x="542" y="481" width="1" height="5" fill="#fff"/>
<rect x="547" y="481" width="1" height="5" fill="#fff"/>
<rect x="549" y="481" width="1" height="5" fill="#fff"/>
<rect x="551" y="481" width="1" height="5" fill="#fff"/>
<rect x="554" y="481" width="1" height="5" fill="#fff"/>
<rect x="556" y="481" width="1" height="5" fill="#fff"/>
<rect x="559" y="481" width="1" height="5" fill="#fff"/>
<rect x="561" y="481" width="1" height="5" fill="#fff"/>
<rect x="564" y="481" width="1" height="5" fill="#fff"/>
<rect x="569" y="481" width="1" height="5" fill="#fff"/>
<rect x="571" y="481" width="1" height="5" fill="#fff"/>
<rect x="574" y="481" width="1" height="5" fill="#fff"/>
<rect x="576" y="481" width="1" height="5" fill="#fff"/>
<rect x="578" y="481" width="1" height="5" fill="#fff"/>
<rect x="581" y="481" width="1" height="5" fill="#fff"/>
<rect x="583" y="481" width="1" height="5" fill="#fff"/>
<rect x="586" y="481" width="1" height="5" fill="#fff"/>
<rect x="591" y="481" width="1" height="5" fill="#fff"/>
<rect x="593" y="481" width="1" height="5" fill="#fff"/>
<rect x="596" y="481" width="1" height="5" fill="#fff"/>
<rect x="598" y="481" width="1" height="5" fill="#fff"/>
<rect x="600" y="481" width="1" height="5" fill="#fff"/>
<rect x="603" y="481" width="1" height="5" fill="#fff"/>
<rect x="605" y="481" width="1" height="5" fill="#fff"/>
<rect x="608" y="481" width="1" height="5" fill="#fff"/>
<rect x="613" y="481" width="1" height="5" fill="#fff"/>
<rect x="615" y="481" width="1" height="5" fill="#fff"/>
<rect x="618" y="481" width="1" height="5" fill="#fff"/>
<rect x="620" y="481" width="1" height="5" fill="#fff"/>
<rect x="623" y="481" width="1" height="5" fill="#fff"/>
<rect x="625" y="481" width="1" height="5" fill="#fff"/>
<rect x="627" y="481" width="1" height="5" fill="#fff"/>
<rect x="511" y="430" width="10" height="6" fill="#000"/>
<rect x="511" y="430" width="10" height="4" fill="#fff"/>
<rect x="511" y="464" width="10" height="6" fill="#000"/>
<rect x="511" y="464" width="10" height="4" fill="#fff"/>
<rect x="511" y="451" width="10" height="6" fill="#000"/>
<rect x="511" y="453" width="10" height="4" fill="#fff"/>
<rect x="511" y="485" width="10" height="6" fill="#000"/>
<rect x="511" y="487" width="10" height="4" fill="#fff"/>
<rect x="486" y="436" width="60" height="18" fill="#000"/>
<rect x="488" y="437" width="55.5" height="14" rx="1.5" fill="#fff"/>
<rect x="535" y="438" width="1" height="10" fill="#000"/>
<rect x="534" y="439" width="1" height="1" fill="#000"/>
<rect x="533" y="440" width="1" height="1" fill="#000"/>
<g font-family="Liberation Sans" font-size="14" font-weight="normal" fill="#000" filter="url(#crisp)"><text transform="translate(492.075 448) scale(0.8052 1)" x="0" y="0">B</text><text transform="translate(500.979 448) scale(0.7541 1)" x="0" y="0">A</text><text transform="translate(510.119 448) scale(0.7672 1)" x="0" y="0">N</text><text transform="translate(519.142 448) scale(0.7470 1)" x="0" y="0">K</text></g>
<rect x="486" y="469" width="60" height="18" fill="#000"/>
<rect x="488" y="470" width="55.5" height="14" rx="1.5" fill="#fff"/>
<g font-family="Liberation Sans" font-size="14" font-weight="normal" fill="#000" filter="url(#crisp)"><text transform="translate(492.075 482) scale(0.8052 1)" x="0" y="0">B</text><text transform="translate(500.979 482) scale(0.7541 1)" x="0" y="0">A</text><text transform="translate(510.119 482) scale(0.7672 1)" x="0" y="0">N</text><text transform="translate(519.142 482) scale(0.7470 1)" x="0" y="0">K</text><text transform="translate(532.591 482) scale(0.7471 1)" x="0" y="0">0</text></g>
<rect x="662" y="387" width="25" height="113" fill="#000"/>
<rect x="663" y="388" width="23" height="111" fill="#fff"/>
<rect x="678" y="388" width="1" height="111" fill="#000"/>
<rect x="665" y="388" width="8" height="3" fill="#000"/>
<rect x="666" y="388" width="6" height="2" fill="#fff"/>
<rect x="668" y="389" width="2" height="1" fill="#000"/>
<rect x="665" y="496" width="8" height="3" fill="#000"/>
<rect x="666" y="497" width="6" height="2" fill="#fff"/>
<rect x="668" y="497" width="2" height="1" fill="#000"/>
<rect x="665" y="393" width="8" height="8" fill="#000"/>
<rect x="666" y="394" width="6" height="6" fill="#fff"/>
<rect x="665" y="402" width="8" height="8" fill="#000"/>
<rect x="666" y="403" width="6" height="6" fill="#fff"/>
<rect x="665" y="412" width="8" height="8" fill="#000"/>
<rect x="666" y="413" width="6" height="6" fill="#fff"/>
<rect x="665" y="421" width="8" height="8" fill="#000"/>
<rect x="666" y="422" width="6" height="6" fill="#fff"/>
<rect x="665" y="430" width="8" height="8" fill="#000"/>
<rect x="666" y="431" width="6" height="6" fill="#fff"/>
<rect x="665" y="440" width="8" height="8" fill="#000"/>
<rect x="666" y="441" width="6" height="6" fill="#fff"/>
<rect x="665" y="449" width="8" height="8" fill="#000"/>
<rect x="666" y="450" width="6" height="6" fill="#fff"/>
<rect x="665" y="458" width="8" height="8" fill="#000"/>
<rect x="666" y="459" width="6" height="6" fill="#fff"/>
<rect x="665" y="468" width="8" height="8" fill="#000"/>
<rect x="666" y="469" width="6" height="6" fill="#fff"/>
<rect x="665" y="477" width="8" height="8" fill="#000"/>
<rect x="666" y="478" width="6" height="6" fill="#fff"/>
<rect x="665" y="486" width="8" height="8" fill="#000"/>
<rect x="666" y="487" width="6" height="6" fill="#fff"/>
<rect x="674" y="389" width="2" height="7" fill="#000"/>
<rect x="679" y="389" width="5" height="7" fill="#000"/>
<rect x="680" y="390" width="3" height="5" fill="#fff"/>
<rect x="678" y="391" width="2" height="3" fill="#000"/>
<rect x="674" y="398" width="2" height="7" fill="#000"/>
<rect x="679" y="398" width="5" height="7" fill="#000"/>
<rect x="680" y="399" width="3" height="5" fill="#fff"/>
<rect x="678" y="400" width="2" height="3" fill="#000"/>
<rect x="674" y="408" width="2" height="7" fill="#000"/>
<rect x="679" y="408" width="5" height="7" fill="#000"/>
<rect x="680" y="409" width="3" height="5" fill="#fff"/>
<rect x="678" y="410" width="2" height="3" fill="#000"/>
<rect x="674" y="417" width="2" height="7" fill="#000"/>
<rect x="679" y="417" width="5" height="7" fill="#000"/>
<rect x="680" y="418" width="3" height="5" fill="#fff"/>
<rect x="678" y="419" width="2" height="3" fill="#000"/>
<rect x="674" y="426" width="2" height="7" fill="#000"/>
<rect x="679" y="426" width="5" height="7" fill="#000"/>
<rect x="680" y="427" width="3" height="5" fill="#fff"/>
<rect x="678" y="428" width="2" height="3" fill="#000"/>
<rect x="674" y="436" width="2" height="7" fill="#000"/>
<rect x="679" y="436" width="5" height="7" fill="#000"/>
<rect x="680" y="437" width="3" height="5" fill="#fff"/>
<rect x="678" y="438" width="2" height="3" fill="#000"/>
<rect x="674" y="445" width="2" height="7" fill="#000"/>
<rect x="679" y="445" width="5" height="7" fill="#000"/>
<rect x="680" y="446" width="3" height="5" fill="#fff"/>
<rect x="678" y="447" width="2" height="3" fill="#000"/>
<rect x="674" y="454" width="2" height="7" fill="#000"/>
<rect x="679" y="454" width="5" height="7" fill="#000"/>
<rect x="680" y="455" width="3" height="5" fill="#fff"/>
<rect x="678" y="456" width="2" height="3" fill="#000"/>
<rect x="674" y="464" width="2" height="7" fill="#000"/>
<rect x="679" y="464" width="5" height="7" fill="#000"/>
<rect x="680" y="465" width="3" height="5" fill="#fff"/>
<rect x="678" y="466" width="2" height="3" fill="#000"/>
<rect x="674" y="473" width="2" height="7" fill="#000"/>
<rect x="679" y="473" width="5" height="7" fill="#000"/>
<rect x="680" y="474" width="3" height="5" fill="#fff"/>
<rect x="678" y="475" width="2" height="3" fill="#000"/>
<rect x="674" y="482" width="2" height="7" fill="#000"/>
<rect x="679" y="482" width="5" height="7" fill="#000"/>
<rect x="680" y="483" width="3" height="5" fill="#fff"/>
<rect x="678" y="484" width="2" height="3" fill="#000"/>
<rect x="674" y="492" width="2" height="6" fill="#000"/>
<rect x="679" y="492" width="5" height="7" fill="#000"/>
<rect x="680" y="493" width="3" height="5" fill="#fff"/>
<rect x="678" y="494" width="2" height="3" fill="#000"/>
<rect x="726" y="430" width="3" height="51" fill="#000"/>
<rect x="723" y="432" width="6" height="46" fill="#000"/>
<rect x="699" y="437" width="30" height="37" fill="#000"/>
<rect x="697" y="443" width="2" height="25" fill="#000"/>
<rect x="693" y="445" width="4" height="9" fill="#000"/>
<rect x="694" y="446" width="2" height="7" fill="#fff"/>
<rect x="693" y="457" width="4" height="8" fill="#000"/>
<rect x="694" y="458" width="2" height="6" fill="#fff"/>
<rect x="697" y="453" width="2" height="5" fill="#fff"/>
<rect x="35" y="36" width="6" height="31" fill="#000"/>
<rect x="36" y="37" width="4" height="1" fill="#fff"/>
<rect x="36" y="42" width="4" height="1" fill="#fff"/>
<rect x="36" y="43" width="4" height="1" fill="#fff"/>
<rect x="36" y="48" width="4" height="1" fill="#fff"/>
<rect x="36" y="49" width="4" height="1" fill="#fff"/>
<rect x="36" y="54" width="4" height="1" fill="#fff"/>
<rect x="36" y="60" width="4" height="1" fill="#fff"/>
<rect x="36" y="65" width="4" height="1" fill="#fff"/>
<rect x="36" y="62" width="4" height="3" fill="#fff"/>
<rect x="37" y="63" width="2" height="1" fill="#000"/>
<rect x="35" y="79" width="6" height="26" fill="#000"/>
<rect x="36" y="80" width="4" height="1" fill="#fff"/>
<rect x="36" y="86" width="4" height="1" fill="#fff"/>
<rect x="36" y="92" width="4" height="1" fill="#fff"/>
<rect x="36" y="97" width="4" height="1" fill="#fff"/>
<rect x="36" y="103" width="4" height="1" fill="#fff"/>
<rect x="37" y="99" width="2" height="2" fill="#fff"/>
<rect x="35" y="114" width="6" height="14" fill="#000"/>
<rect x="36" y="115" width="4" height="1" fill="#fff"/>
<rect x="36" y="120" width="4" height="1" fill="#fff"/>
<rect x="36" y="126" width="4" height="1" fill="#fff"/>
<rect x="35" y="191" width="6" height="14" fill="#000"/>
<rect x="36" y="192" width="4" height="1" fill="#fff"/>
<rect x="36" y="198" width="4" height="1" fill="#fff"/>
<rect x="36" y="203" width="4" height="1" fill="#fff"/>
<rect x="35" y="227" width="6" height="13" fill="#000"/>
<rect x="36" y="228" width="4" height="1" fill="#fff"/>
<rect x="36" y="233" width="4" height="1" fill="#fff"/>
<rect x="36" y="238" width="4" height="1" fill="#fff"/>
<rect x="35" y="258" width="6" height="13" fill="#000"/>
<rect x="36" y="259" width="4" height="1" fill="#fff"/>
<rect x="36" y="264" width="4" height="1" fill="#fff"/>
<rect x="36" y="269" width="4" height="1" fill="#fff"/>
<rect x="46" y="46" width="7" height="19" fill="#000"/>
<rect x="47" y="52" width="5" height="1" fill="#fff"/>
<rect x="47" y="58" width="5" height="1" fill="#fff"/>
<rect x="48" y="60" width="3" height="3" fill="#fff"/>
<polygon points="56.5,88.5 48.0,91.5 44,92.5 41,92.5 41,94.9 45,94.9 48.5,95.7 56.5,98.7" fill="#000"/>
<rect x="55.5" y="84" width="25.5" height="19" rx="3.5" fill="#000"/>
<rect x="57.5" y="86" width="21.5" height="15" rx="1.5" fill="#fff"/>
<g font-family="Liberation Sans" font-size="14" font-weight="normal" fill="#000" filter="url(#crisp)"><text transform="translate(59.848 98) scale(0.6966 1)" x="0" y="0">J</text><text transform="translate(68.450 98) scale(0.7740 1)" x="0" y="0">6</text></g>
<polygon points="56.5,116.5 48.0,119.5 44,120.5 41,120.5 41,122.9 45,122.9 48.5,123.7 56.5,126.7" fill="#000"/>
<rect x="55.5" y="112.5" width="25.5" height="18.0" rx="3.5" fill="#000"/>
<rect x="57.5" y="114.5" width="21.5" height="14.0" rx="1.5" fill="#fff"/>
<g font-family="Liberation Sans" font-size="14" font-weight="normal" fill="#000" filter="url(#crisp)"><text transform="translate(59.848 127) scale(0.6966 1)" x="0" y="0">J</text><text transform="translate(68.578 127) scale(0.7533 1)" x="0" y="0">5</text></g>
<polygon points="56.5,193.25 48.0,196.25 44,197.25 41,197.25 41,199.65 45,199.65 48.5,200.45 56.5,203.45" fill="#000"/>
<rect x="55.5" y="189" width="25.5" height="18.5" rx="3.5" fill="#000"/>
<rect x="57.5" y="191" width="21.5" height="14.5" rx="1.5" fill="#fff"/>
<g font-family="Liberation Sans" font-size="14" font-weight="normal" fill="#000" filter="url(#crisp)"><text transform="translate(59.848 203) scale(0.6966 1)" x="0" y="0">J</text><text transform="translate(66.598 203) scale(0.7533 1)" x="0" y="0">3</text></g>
<polygon points="56.5,230.25 48.0,233.25 44,234.25 41,234.25 41,236.65 45,236.65 48.5,237.45 56.5,240.45" fill="#000"/>
<rect x="55.5" y="226" width="25.5" height="18.5" rx="3.5" fill="#000"/>
<rect x="57.5" y="228" width="21.5" height="14.5" rx="1.5" fill="#fff"/>
<g font-family="Liberation Sans" font-size="14" font-weight="normal" fill="#000" filter="url(#crisp)"><text transform="translate(61.848 240) scale(0.6966 1)" x="0" y="0">J</text><text transform="translate(69.493 240) scale(0.7732 1)" x="0" y="0">9</text></g>
<polygon points="56.5,259.15 48.0,262.15 44,263.15 41,263.15 41,265.54999999999995 45,265.54999999999995 48.5,266.34999999999997 56.5,269.34999999999997" fill="#000"/>
<rect x="55.5" y="255" width="35.5" height="18.30000000000001" rx="3.5" fill="#000"/>
<rect x="57.5" y="257" width="31.5" height="14.300000000000011" rx="1.5" fill="#fff"/>
<rect x="71" y="258" width="1" height="10" fill="#000"/>
<rect x="70" y="259" width="1" height="1" fill="#000"/>
<rect x="69" y="260" width="1" height="1" fill="#000"/>
<g font-family="Liberation Sans" font-size="14" font-weight="normal" fill="#000" filter="url(#crisp)"><text transform="translate(61.848 268) scale(0.6966 1)" x="0" y="0">J</text><text transform="translate(76.591 268) scale(0.7471 1)" x="0" y="0">0</text></g>
<path d="M30 29 L38 36" stroke="#000" stroke-width="3"/>
<path d="M30 29 L38 36" stroke="#fff" stroke-width="1"/>
<rect x="7" y="11" width="25" height="19" rx="3.5" fill="#000"/>
<rect x="9" y="13" width="21" height="15" rx="1.5" fill="#fff"/>
<g font-family="Liberation Sans" font-size="14" font-weight="normal" fill="#000" filter="url(#crisp)"><text transform="translate(11.848 24) scale(0.6966 1)" x="0" y="0">J</text><text transform="translate(19.436 24) scale(0.7856 1)" x="0" y="0">7</text></g>
<rect x="61" y="24" width="42" height="16" fill="#000"/>
<rect x="62" y="26" width="39" height="14" fill="#fff"/>
<rect x="84" y="27" width="1" height="10" fill="#000"/>
<rect x="83" y="28" width="1" height="1" fill="#000"/>
<rect x="82" y="29" width="1" height="1" fill="#000"/>
<g font-family="Liberation Sans" font-size="13.5" font-weight="normal" fill="#000" filter="url(#crisp)"><text transform="translate(65.848 37) scale(0.7224 1)" x="0" y="0">J</text><text transform="translate(72.229 37) scale(0.6959 1)" x="0" y="0">P</text><text transform="translate(89.560 37) scale(0.6421 1)" x="0" y="0">6</text></g>
<path d="M62.5 40 L53 47" stroke="#000" stroke-width="1"/>
<path d="M62.5 40 L56.5 44.5" stroke="#fff" stroke-width="1"/>
<rect x="190" y="97" width="7" height="19" fill="#000"/>
<rect x="191" y="98" width="1" height="17" fill="#fff"/>
<rect x="192" y="103" width="4" height="1" fill="#fff"/>
<rect x="192" y="108" width="4" height="1" fill="#fff"/>
<rect x="193" y="111" width="2" height="2" fill="#fff"/>
<polygon points="212.5,103 204.0,106 200,107 197,107 197,109.4 201,109.4 204.5,110.2 212.5,113.2" fill="#000"/>
<rect x="211.5" y="99.3" width="41.5" height="17.700000000000003" rx="3.5" fill="#000"/>
<rect x="213.5" y="101.3" width="37.5" height="13.700000000000003" rx="1.5" fill="#fff"/>
<rect x="235" y="102" width="1" height="10" fill="#000"/>
<rect x="234" y="103" width="1" height="1" fill="#000"/>
<rect x="233" y="104" width="1" height="1" fill="#000"/>
<g font-family="Liberation Sans" font-size="14" font-weight="normal" fill="#000" filter="url(#crisp)"><text transform="translate(216.848 112) scale(0.6966 1)" x="0" y="0">J</text><text transform="translate(223.229 112) scale(0.6710 1)" x="0" y="0">P</text><text transform="translate(240.772 112) scale(0.7087 1)" x="0" y="0">4</text></g>
<rect x="316" y="63" width="30" height="14" fill="#fff"/>
<g font-family="Liberation Sans" font-size="13.5" font-weight="normal" fill="#000" filter="url(#crisp)"><text transform="translate(318.848 75) scale(0.7224 1)" x="0" y="0">J</text><text transform="translate(326.229 75) scale(0.6959 1)" x="0" y="0">P</text><text transform="translate(335.537 75) scale(0.7893 1)" x="0" y="0">8</text></g>
<polygon points="327.7010796221724,76.92225221172701 329.00038557934727,94.97223293275965 330.99961442065273,95.02776706724035 333.2989203778276,77.07774778827299" fill="#000"/>
<rect x="327" y="95" width="12" height="14" fill="#000"/>
<rect x="328" y="96" width="4" height="1" fill="#fff"/>
<rect x="334" y="96" width="4" height="1" fill="#fff"/>
<rect x="328" y="101" width="4" height="1" fill="#fff"/>
<rect x="334" y="101" width="4" height="1" fill="#fff"/>
<rect x="328" y="107" width="4" height="1" fill="#fff"/>
<rect x="334" y="107" width="4" height="1" fill="#fff"/>
<rect x="333" y="97" width="1" height="11" fill="#fff"/>
<polygon points="354.62896517604383,99.5020795426412 339.0419136822143,101.7006758513584 338.9580863177857,104.2993241486416 354.37103482395617,107.4979204573588" fill="#000"/>
<rect x="353" y="95.5" width="35" height="16.5" rx="3.5" fill="#000"/>
<rect x="355" y="97.5" width="31" height="12.5" rx="1.5" fill="#fff"/>
<g font-family="Liberation Sans" font-size="14" font-weight="normal" fill="#000" filter="url(#crisp)"><text transform="translate(358.848 108) scale(0.6966 1)" x="0" y="0">J</text><text transform="translate(366.229 108) scale(0.6710 1)" x="0" y="0">P</text><text transform="translate(375.436 108) scale(0.7856 1)" x="0" y="0">7</text></g>
<rect x="306" y="95" width="7" height="14" fill="#000"/>
<rect x="307" y="96" width="5" height="1" fill="#fff"/>
<rect x="307" y="101" width="5" height="1" fill="#fff"/>
<rect x="307" y="107" width="5" height="1" fill="#fff"/>
<path d="M310.5 108.5 L318 117" stroke="#000" stroke-width="3"/>
<path d="M310.5 108.5 L318 117" stroke="#fff" stroke-width="1"/>
<rect x="316" y="115.5" width="36.5" height="18.0" rx="3.5" fill="#000"/>
<rect x="318" y="117.5" width="32.5" height="14.0" rx="1.5" fill="#fff"/>
<rect x="337" y="119" width="1" height="10" fill="#000"/>
<rect x="336" y="120" width="1" height="1" fill="#000"/>
<rect x="335" y="121" width="1" height="1" fill="#000"/>
<rect x="345" y="119" width="1" height="10" fill="#000"/>
<rect x="344" y="120" width="1" height="1" fill="#000"/>
<rect x="343" y="121" width="1" height="1" fill="#000"/>
<g font-family="Liberation Sans" font-size="14" font-weight="normal" fill="#000" filter="url(#crisp)"><text transform="translate(318.848 129) scale(0.6966 1)" x="0" y="0">J</text><text transform="translate(325.229 129) scale(0.6710 1)" x="0" y="0">P</text></g>
<rect x="684" y="280" width="13" height="7" fill="#000"/>
<rect x="685" y="281" width="11" height="1" fill="#fff"/>
<rect x="690" y="281" width="1" height="5" fill="#fff"/>
<polygon points="669.066657409336,287.9994445601584 681.0316622694346,285.69973616607524 680.9683377305654,281.9002638339248 668.933342590664,280.0005554398416" fill="#000"/>
<rect x="680" y="283" width="5" height="2" fill="#000"/>
<rect x="627.5" y="275.5" width="41.5" height="16.80000000000001" rx="3.5" fill="#000"/>
<rect x="629.5" y="277.5" width="37.5" height="12.800000000000011" rx="1.5" fill="#fff"/>
<g font-family="Liberation Sans" font-size="14" font-weight="normal" fill="#000" filter="url(#crisp)"><text transform="translate(631.848 288) scale(0.6966 1)" x="0" y="0">J</text><text transform="translate(639.229 288) scale(0.6710 1)" x="0" y="0">P</text><text transform="translate(648.448 288) scale(0.7840 1)" x="0" y="0">2</text><text transform="translate(656.772 288) scale(0.7087 1)" x="0" y="0">4</text></g>
<rect x="600" y="347" width="33" height="17" fill="#000"/>
<rect x="600" y="347" width="33" height="17" rx="3" fill="#000"/>
<rect x="602" y="348" width="29" height="14" fill="#fff"/>
<rect x="616" y="349" width="1" height="10" fill="#000"/>
<rect x="615" y="350" width="1" height="1" fill="#000"/>
<rect x="614" y="351" width="1" height="1" fill="#000"/>
<rect x="624" y="349" width="1" height="10" fill="#000"/>
<rect x="623" y="350" width="1" height="1" fill="#000"/>
<rect x="622" y="351" width="1" height="1" fill="#000"/>
<g font-family="Liberation Sans" font-size="14" font-weight="normal" fill="#000" filter="url(#crisp)"><text transform="translate(605.848 359) scale(0.6966 1)" x="0" y="0">J</text></g>
<polygon points="613.2,362.0 615.0,379.0 617.0,379.0 618.8,362.0" fill="#000"/>
<polygon points="621.9982922663048,423.890678366678 619.1994144913045,407.96251829714674 616.8005855086955,408.03748170285326 615.0017077336952,424.109321633322" fill="#000"/>
<rect x="603" y="424" width="33" height="19.5" rx="3.5" fill="#000"/>
<rect x="605" y="426" width="29" height="14.5" rx="1.5" fill="#fff"/>
<rect x="619" y="428" width="1" height="10" fill="#000"/>
<rect x="618" y="429" width="1" height="1" fill="#000"/>
<rect x="617" y="430" width="1" height="1" fill="#000"/>
<g font-family="Liberation Sans" font-size="14" font-weight="normal" fill="#000" filter="url(#crisp)"><text transform="translate(608.848 438) scale(0.6966 1)" x="0" y="0">J</text><text transform="translate(624.448 438) scale(0.7840 1)" x="0" y="0">2</text></g>
<polygon points="496,371 501,374.5 494.5,380.5 489,380.5" fill="#000"/>
<rect x="471" y="380" width="26" height="1" fill="#000"/>
<rect x="496" y="356.5" width="35" height="18.5" rx="3.5" fill="#000"/>
<rect x="498" y="358.5" width="30" height="13.5" rx="1.5" fill="#fff"/>
<rect x="510" y="359" width="1" height="10" fill="#000"/>
<rect x="509" y="360" width="1" height="1" fill="#000"/>
<rect x="508" y="361" width="1" height="1" fill="#000"/>
<g font-family="Liberation Sans" font-size="14" font-weight="normal" fill="#000" filter="url(#crisp)"><text transform="translate(500.848 369) scale(0.6966 1)" x="0" y="0">J</text><text transform="translate(515.598 369) scale(0.7533 1)" x="0" y="0">3</text></g>
<rect x="467" y="390" width="7" height="14" fill="#000"/>
<rect x="468" y="391" width="5" height="1" fill="#fff"/>
<rect x="468" y="397" width="5" height="1" fill="#fff"/>
<rect x="468" y="402" width="5" height="1" fill="#fff"/>
<polygon points="452.0,401.2 467.0,398.5 467.0,395.9 452.0,393.2" fill="#000"/>
<rect x="411.5" y="388.5" width="41.0" height="18.0" rx="3.5" fill="#000"/>
<rect x="414.5" y="390.5" width="35.0" height="13.0" rx="1.5" fill="#fff"/>
<g font-family="Liberation Sans" font-size="14" font-weight="normal" fill="#000" filter="url(#crisp)"><text transform="translate(415.848 401) scale(0.6966 1)" x="0" y="0">J</text><text transform="translate(423.229 401) scale(0.6710 1)" x="0" y="0">P</text><text transform="translate(432.448 401) scale(0.7840 1)" x="0" y="0">2</text><text transform="translate(440.578 401) scale(0.7533 1)" x="0" y="0">5</text></g>
<rect x="490" y="390" width="13" height="14" fill="#000"/>
<rect x="491" y="391" width="1" height="12" fill="#fff"/>
<rect x="492" y="391" width="4" height="1" fill="#fff"/>
<rect x="497" y="391" width="5" height="1" fill="#fff"/>
<rect x="492" y="397" width="4" height="1" fill="#fff"/>
<rect x="497" y="397" width="5" height="1" fill="#fff"/>
<rect x="492" y="402" width="4" height="1" fill="#fff"/>
<rect x="497" y="402" width="5" height="1" fill="#fff"/>
<path d="M492.5 403.5 L484.5 413" stroke="#000" stroke-width="3.2"/>
<path d="M492.5 403.5 L484.5 413" stroke="#fff" stroke-width="1"/>
<path d="M501 403 L509.5 413" stroke="#000" stroke-width="3.2"/>
<rect x="446" y="411.5" width="40" height="17.5" rx="3.5" fill="#000"/>
<rect x="449" y="414.5" width="35" height="12.5" rx="1.5" fill="#fff"/>
<g font-family="Liberation Sans" font-size="14" font-weight="normal" fill="#000" filter="url(#crisp)"><text transform="translate(449.848 424) scale(0.6966 1)" x="0" y="0">J</text><text transform="translate(456.229 424) scale(0.6710 1)" x="0" y="0">P</text><text transform="translate(465.448 424) scale(0.7840 1)" x="0" y="0">2</text><text transform="translate(473.450 424) scale(0.7740 1)" x="0" y="0">6</text></g>
<rect x="509" y="411.5" width="40" height="17.5" rx="3.5" fill="#000"/>
<rect x="511" y="414.5" width="35" height="12.5" rx="1.5" fill="#fff"/>
<g font-family="Liberation Sans" font-size="14" font-weight="normal" fill="#000" filter="url(#crisp)"><text transform="translate(512.848 424) scale(0.6966 1)" x="0" y="0">J</text><text transform="translate(519.229 424) scale(0.6710 1)" x="0" y="0">P</text><text transform="translate(528.448 424) scale(0.7840 1)" x="0" y="0">2</text><text transform="translate(537.436 424) scale(0.7856 1)" x="0" y="0">7</text></g>
<rect x="275" y="422" width="7" height="19" fill="#000"/>
<rect x="276" y="428" width="5" height="1" fill="#fff"/>
<rect x="276" y="434" width="5" height="1" fill="#fff"/>
<rect x="277" y="436" width="3" height="3" fill="#fff"/>
<rect x="323" y="422" width="7" height="19" fill="#000"/>
<rect x="324" y="428" width="5" height="1" fill="#fff"/>
<rect x="324" y="434" width="5" height="1" fill="#fff"/>
<rect x="325" y="436" width="3" height="3" fill="#fff"/>
<path d="M287 411 L278 422" stroke="#000" stroke-width="3"/>
<path d="M287 411 L278 422" stroke="#fff" stroke-width="1"/>
<rect x="285.5" y="396.7" width="32.5" height="17.30000000000001" rx="3.5" fill="#000"/>
<rect x="287.5" y="398.7" width="28.5" height="13.300000000000011" rx="1.5" fill="#fff"/>
<g font-family="Liberation Sans" font-size="14" font-weight="normal" fill="#000" filter="url(#crisp)"><text transform="translate(289.848 409) scale(0.6966 1)" x="0" y="0">J</text><text transform="translate(297.229 409) scale(0.6710 1)" x="0" y="0">P</text><text transform="translate(307.450 409) scale(0.7740 1)" x="0" y="0">6</text></g>
<polygon points="329.5,458.0 327.5,440.0 325.5,440.0 323.5,458.0" fill="#000"/>
<rect x="311.5" y="457.3" width="32.5" height="17.30000000000001" rx="3.5" fill="#000"/>
<rect x="313.5" y="459.3" width="28.5" height="13.300000000000011" rx="1.5" fill="#fff"/>
<rect x="335" y="461" width="1" height="10" fill="#000"/>
<rect x="334" y="462" width="1" height="1" fill="#000"/>
<rect x="333" y="463" width="1" height="1" fill="#000"/>
<g font-family="Liberation Sans" font-size="14" font-weight="normal" fill="#000" filter="url(#crisp)"><text transform="translate(315.848 471) scale(0.6966 1)" x="0" y="0">J</text><text transform="translate(323.229 471) scale(0.6710 1)" x="0" y="0">P</text></g>
<polygon points="58.50,92.50 48.00,93.70 48.00,94.30 58.50,95.30" fill="#fff"/>
<polygon points="58.50,120.50 48.00,121.70 48.00,122.30 58.50,123.30" fill="#fff"/>
<polygon points="58.50,197.25 48.00,198.45 48.00,199.05 58.50,200.05" fill="#fff"/>
<polygon points="58.50,234.25 48.00,235.45 48.00,236.05 58.50,237.05" fill="#fff"/>
<polygon points="58.50,263.15 48.00,264.35 48.00,264.95 58.50,265.95" fill="#fff"/>
<polygon points="214.50,107.00 204.00,108.20 204.00,108.80 214.50,109.80" fill="#fff"/>
<polygon points="329.67,74.38 330.25,86.00 331.47,74.43" fill="#fff"/>
<polygon points="357.13,102.68 346.75,103.25 357.07,104.48" fill="#fff"/>
<polygon points="666.42,284.94 675.60,283.89 666.39,283.14" fill="#fff"/>
<polygon points="615.00,359.40 616.00,369.65 617.00,359.40" fill="#fff"/>
<polygon points="619.58,426.57 618.30,417.60 617.58,426.63" fill="#fff"/>
<path d="M499 372 L495.5 376" stroke="#fff" stroke-width="1.2"/>
<polygon points="449.40,398.10 459.50,397.20 449.40,396.30" fill="#fff"/>
<polygon points="327.50,460.60 326.50,449.00 325.50,460.60" fill="#fff"/>
</svg>
</body></html>
